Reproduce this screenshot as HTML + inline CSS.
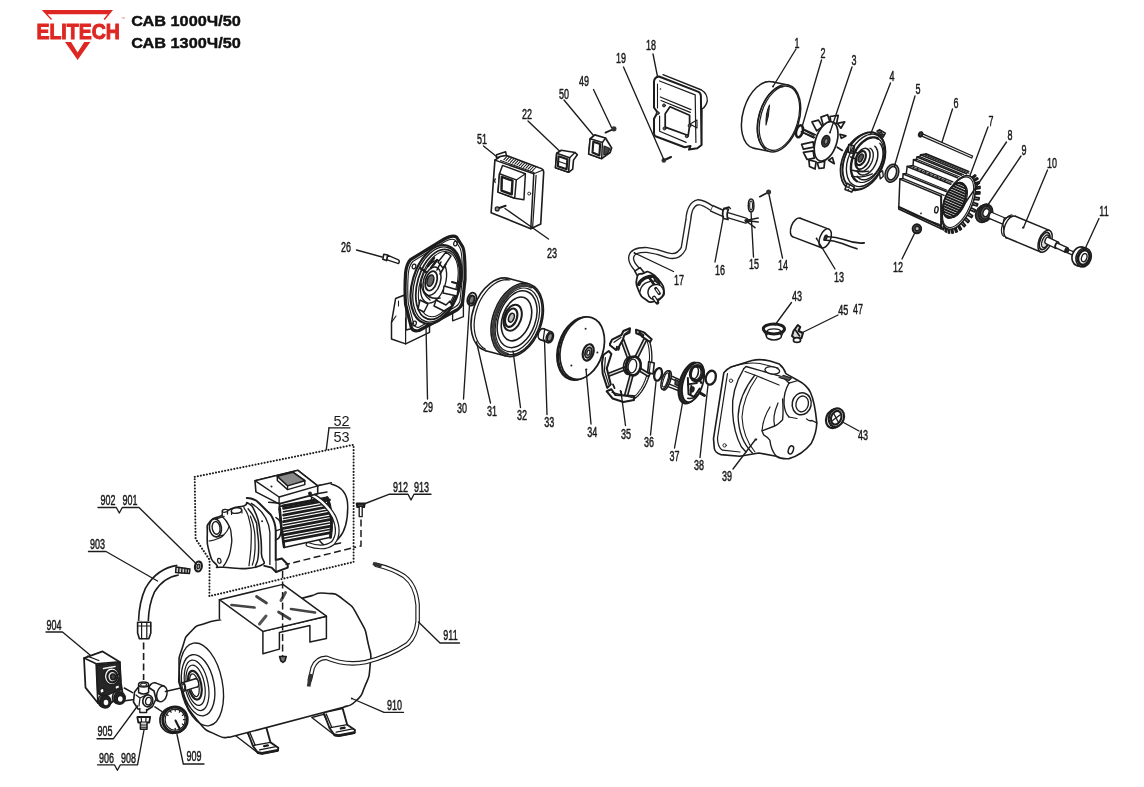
<!DOCTYPE html>
<html lang="ru"><head><meta charset="utf-8"><title>ELITECH САВ 1000Ч/50 — схема</title>
<style>
html,body{margin:0;padding:0;background:#fff;}
body{width:1144px;height:787px;overflow:hidden;font-family:"Liberation Sans",sans-serif;}
svg{display:block;filter:blur(0.3px)}
svg *{vector-effect:none}
.lb{font-family:"Liberation Sans",sans-serif;fill:#1a1a1a;stroke:#1a1a1a;stroke-width:0.5px}
.lg{font-family:"Liberation Sans",sans-serif}
.lc{font-family:"Liberation Sans",sans-serif;fill:#1a1a1a;stroke:none}
</style></head><body>
<svg width="1144" height="787" viewBox="0 0 1144 787" stroke="#1c1c1c" fill="none" stroke-linecap="round" stroke-linejoin="round">
<rect x="0" y="0" width="1144" height="787" fill="#fff" stroke="none"/>
<g id="p_logo">
<path d="M41.8 10.1 L113 10.1 L104.8 19.9 L103.6 19.1 L107.6 14.2 L47.5 14.2 L52 18.9 L51 19.9 Z" fill="#de2722" stroke="none"/>
<path d="M65 42 L71.1 42 L77.6 52.4 L84.2 42 L90.3 42 L77.6 60.1 Z" fill="#de2722" stroke="none"/>
<text x="36.4" y="38.8" font-size="22.3" font-weight="bold" fill="#de2722" stroke="#de2722" stroke-width="1.0" stroke-linejoin="miter" textLength="83.6" lengthAdjust="spacingAndGlyphs" class="lg">ELITECH</text>
<text x="121.2" y="18.6" font-size="3.4" fill="#d88" stroke="none" class="lg">тм</text>
<text x="131.2" y="26.3" font-size="15.3" font-weight="bold" fill="#111" stroke="#111" stroke-width="0.45" textLength="109.6" lengthAdjust="spacingAndGlyphs" class="lg">САВ 1000Ч/50</text>
<text x="131.2" y="48.2" font-size="15.3" font-weight="bold" fill="#111" stroke="#111" stroke-width="0.45" textLength="109.6" lengthAdjust="spacingAndGlyphs" class="lg">САВ 1300Ч/50</text>
</g>
<g id="p_motor">
<ellipse cx="763" cy="115" rx="20" ry="34.5" stroke-width="1.49" fill="#fff" transform="rotate(16.7 763 115)" />
<path d="M771.9 81.7 L788 85 L770.2 151.6 L754.1 148.3 Z" stroke-width="1.49" fill="#fff" stroke="none"/>
<line x1="771.9" y1="81.7" x2="788" y2="85" stroke-width="1.49" />
<line x1="754.1" y1="148.3" x2="770.2" y2="151.6" stroke-width="1.49" />
<ellipse cx="779.1" cy="118.3" rx="20" ry="34.5" stroke-width="1.49" fill="#fff" transform="rotate(16.7 779.1 118.3)" />
<ellipse cx="779.4" cy="118.3" rx="18.6" ry="33" stroke-width="1.22" fill="none" transform="rotate(16.7 779.4 118.3)" />
<path d="M765.5 148.3 L763.7 147.1 L762 145.5 L760.6 143.6 L759.3 141.2 L758.4 138.5 L757.7 135.5 L757.2 132.2 L757.1 128.7 L757.2 125.1 L757.6 121.4 L758.3 117.6 L759.2 113.8 L760.4 110.1 L761.8 106.5 L763.5 103 L765.3 99.8 L767.3 96.9 L769.4 94.2 L771.6 92 L773.9 90.1 L776.2 88.6 L778.5 87.5 L780.8 86.9 L783 86.8" stroke-width="1.22" fill="none" />
<path d="M769.5 105 Q765.5 113 766 125 Q769 116 769.5 105 Z" stroke-width="1.08" fill="#333" />
<ellipse cx="799.5" cy="131.3" rx="3.2" ry="6.2" stroke-width="2.56" fill="none" transform="rotate(16.7 799.5 131.3)" />
<path d="M802.5 129.5 L814 135.5 M802.5 132.5 L813.5 138" stroke-width="1.22" fill="none" />
<path d="M816.7 130.9 L811.9 121.9 L818.5 120.1 L822.5 126.7 Z" stroke-width="1.69" fill="#fff" />
<path d="M823.4 125.8 L820.9 117.1 L827.6 114.7 L830.2 123.1 Z" stroke-width="1.69" fill="#fff" />
<path d="M831 123.1 L830 116.5 L838.2 115.3 L836.6 123.3 Z" stroke-width="1.69" fill="#fff" />
<path d="M837.2 123.3 L844.7 121.9 L840.9 128.2 Z" stroke-width="1.69" fill="#fff" />
<path d="M839.9 134.3 L845.9 135.9 L841.3 138.3 Z" stroke-width="1.69" fill="#fff" />
<path d="M828.6 160.2 L832.4 157.6 L834.3 163.7 Z" stroke-width="1.69" fill="#fff" />
<path d="M817.3 162.9 L824.7 161.1 L824 167.9 L819.1 168.5 Z" stroke-width="1.69" fill="#fff" />
<path d="M816.1 161.7 L808.9 159.9 L809.5 166.5 L815 169.1 Z" stroke-width="1.69" fill="#fff" />
<path d="M813.1 150.9 L803.4 152.3 L807.1 159.5 L814.3 158.1 Z" stroke-width="1.69" fill="#fff" />
<path d="M813.1 141.8 L801.6 144.3 L803.4 149.2 L813.8 147.2 Z" stroke-width="1.69" fill="#fff" />
<path d="M837.2399227612841 147.2399227612841 L842.3087134926382 150.3777455949795" stroke-width="1.76" fill="none" />
<path d="M802.4825006034275 128.65435674631908 L815.2751629254163 134.68863142650252 M801.2756456673908 131.79217958001448 L814.3096789765871 137.34371228578325" stroke-width="1.62" fill="none" />
<ellipse cx="826.1" cy="141.4" rx="10.6" ry="20.4" stroke-width="1.69" fill="#fff" transform="rotate(18 826.1 141.4)" />
<ellipse cx="825.8" cy="141.2" rx="3.9" ry="5.9" stroke-width="1.35" fill="#3a3a3a" transform="rotate(18 825.8 141.2)" />
<ellipse cx="826.1" cy="141.3" rx="1.7" ry="2.9" stroke-width="0.94" fill="#8a8a8a" transform="rotate(18 826.1 141.3)" />
<ellipse cx="861.9" cy="161.7" rx="19.3" ry="30" stroke-width="1.76" fill="#fff" transform="rotate(23.8 861.9 161.7)" />
<ellipse cx="864" cy="160.8" rx="19.3" ry="30" stroke-width="1.89" fill="#fff" transform="rotate(23.8 864 160.8)" />
<path d="M877.1 131.1 L879.5 129.6 L885.3 133.2 L883.1 137.1 Z" stroke-width="1.62" fill="#fff" />
<path d="M879.4798455225682 131.79217958001448 L883.7038377986966 134.68863142650252 M880.9280714458122 130.5853246439778 L882.1349263818489 135.17137340091722" stroke-width="1.22" fill="none" />
<path d="M847.1 183.2 L845 189.5 L851.7 192.1 L854.4 187.1 Z" stroke-width="1.62" fill="#fff" />
<path d="M846.6533912623703 186.58339367608014 L852.6876659425537 189.4798455225682 M849.5498431088583 184.8937967656288 L848.1016171856143 190.44532947139754" stroke-width="1.22" fill="none" />
<path d="M879.5 172.6 L882.6 170.8 L883.3 176.2 L880.2 178.9 Z" stroke-width="1.35" fill="#fff" />
<path d="M848.8 144.6 L854.4 146 L853.2 153.5 L848.1 152.1 Z" stroke-width="1.76" fill="#fff" />
<line x1="851.2" y1="145.6" x2="850.3" y2="152.6" stroke-width="1.22" />
<ellipse cx="865.7" cy="160.4" rx="17.2" ry="27.6" stroke-width="1.35" fill="none" transform="rotate(23.8 865.7 160.4)" />
<path d="M856.7 181.1 L855.1 179.9 L853.8 178.4 L852.7 176.5 L851.9 174.4 L851.3 172 L851 169.4 L851 166.6 L851.2 163.8 L851.8 160.8 L852.6 157.9 L853.6 155 L854.9 152.1 L856.4 149.4 L858.1 146.9 L860 144.6 L862 142.6 L864.1 140.9 L866.2 139.4 L868.3 138.4 L870.5 137.7 L872.6 137.4 L874.6 137.4 L876.4 137.9 L878.1 138.7" stroke-width="2.43" fill="none" />
<path d="M878.1 138.7 L879.7 139.9 L881 141.5 L882.1 143.3 L882.9 145.5 L883.5 147.8 L883.8 150.4 L883.8 153.2 L883.6 156 L883 159 L882.2 161.9 L881.2 164.8 L879.9 167.7 L878.4 170.4 L876.7 172.9 L874.8 175.2 L872.8 177.2 L870.8 179 L868.6 180.4 L866.5 181.4 L864.4 182.1 L862.3 182.5 L860.3 182.4 L858.4 181.9 L856.7 181.1" stroke-width="1.22" fill="none" />
<path d="M879.9 143.4 L881 144.8 L881.9 146.6 L882.5 148.6 L882.9 150.8 L883.1 153.2 L883 155.7 L882.6 158.3 L882 160.9 L881.1 163.5 L880.1 166 L878.8 168.5 L877.4 170.8 L875.7 172.9 L874 174.8 L872.2 176.4 L870.3 177.7 L868.4 178.7 L866.5 179.4 L864.6 179.8 L862.9 179.7 L861.2 179.4 L859.7 178.7 L858.3 177.6 L857.1 176.2" stroke-width="1.49" fill="none" />
<path d="M874.8 146.2 L875.8 147.2 L876.6 148.6 L877.3 150.1 L877.7 151.9 L877.8 153.9 L877.8 155.9 L877.5 158.1 L877 160.3 L876.2 162.5 L875.3 164.6 L874.2 166.7 L873 168.6 L871.6 170.3 L870.1 171.8 L868.6 173 L867 174 L865.4 174.6 L863.9 175 L862.4 175 L861 174.8 L859.7 174.2 L858.6 173.3 L857.7 172.1 L856.9 170.7" stroke-width="1.49" fill="none" />
<path d="M870 148.2 L871.1 148.9 L872 149.9 L872.6 151.2 L873.1 152.7 L873.3 154.5 L873.2 156.4 L872.9 158.4 L872.4 160.4 L871.6 162.5 L870.6 164.4 L869.5 166.2 L868.2 167.7 L866.8 169.1 L865.4 170.1 L864 170.8 L862.5 171.2 L861.2 171.2 L860 170.9 L858.9 170.2 L858 169.2 L857.4 167.9 L856.9 166.4 L856.7 164.6 L856.8 162.7" stroke-width="1.35" fill="none" />
<ellipse cx="862.6" cy="158.7" rx="6.6" ry="11" stroke-width="1.62" fill="none" transform="rotate(23.8 862.6 158.7)" />
<ellipse cx="860.9" cy="158.1" rx="4.4" ry="7.4" stroke-width="2.16" fill="#fff" transform="rotate(23.8 860.9 158.1)" />
<ellipse cx="860.7" cy="158" rx="2.2" ry="4.2" stroke-width="1.35" fill="#555" transform="rotate(23.8 860.7 158)" />
<path d="M852.4462949553464 170.17016654598117 Q860.1701665459811 172.58387641805456 868.6181510982381 171.13565049481053" stroke-width="1.49" fill="none" />
<path d="M851.7221819937243 176.20444122616462 Q860.1701665459811 178.618151098238 872.238715906348 173.79073135409124" stroke-width="1.35" fill="none" />
<path d="M851.7221819937243 150.86048756939417 L857.7564566739078 153.27419744146755 M850.756698044895 156.8947622495776 L855.3427468018344 158.70504465363263" stroke-width="1.62" fill="none" />
<ellipse cx="891.9" cy="173.2" rx="6.6" ry="9.3" stroke-width="1.49" fill="#999" transform="rotate(20 891.9 173.2)" />
<ellipse cx="891.9" cy="173.2" rx="4.3" ry="6.9" stroke-width="1.49" fill="#fff" transform="rotate(20 891.9 173.2)" />
<path d="M921.5 133.4 L972.6 156 L971.8 158 L920.7 135.6 Z" stroke-width="1.22" fill="#eee" />
<ellipse cx="920.6" cy="134.4" rx="1.7" ry="2.3" stroke-width="1.89" fill="#444" transform="rotate(20 920.6 134.4)" />
<path d="M900.1 178.8 L902.8 178.4 L903.2 173.9 L906.3 173.5 L907.2 166.4 L913 165.5 L913.5 159.7 L916.6 159.2 L917 157 L919.7 156.6 L920.6 154.8 L925.9 153.9 L970.8 172.8 L962.4 174.8 L955.3 179.3 L949.9 185 L946.4 191.3 L942.8 197.7 Z" stroke-width="1.35" fill="#fff" stroke="none"/>
<line x1="902.8" y1="178.4" x2="944.1" y2="195.4" stroke-width="1.22" />
<line x1="903.2" y1="173.9" x2="946.2" y2="191.6" stroke-width="1.62" />
<line x1="906.3" y1="173.5" x2="947" y2="190.2" stroke-width="1.22" />
<line x1="907.2" y1="166.4" x2="950.7" y2="184.2" stroke-width="1.62" />
<line x1="910.1" y1="166" x2="951.7" y2="183.1" stroke-width="0.94" />
<line x1="913" y1="165.5" x2="952.9" y2="181.9" stroke-width="1.35" />
<line x1="913.5" y1="159.7" x2="957.5" y2="177.8" stroke-width="1.62" />
<line x1="916.6" y1="159.2" x2="959.2" y2="176.8" stroke-width="1.22" />
<line x1="917" y1="157" x2="961.5" y2="175.3" stroke-width="1.49" />
<line x1="919.7" y1="156.6" x2="963.4" y2="174.6" stroke-width="1.22" />
<line x1="920.6" y1="154.8" x2="966.7" y2="173.8" stroke-width="1.49" />
<line x1="923.2" y1="154.3" x2="969" y2="173.2" stroke-width="1.08" />
<line x1="925.9" y1="153.9" x2="968.6" y2="171.5" stroke-width="1.89" />
<line x1="913.9" y1="166.7" x2="913" y2="168.7" stroke-width="1.22" />
<line x1="917.8" y1="168.3" x2="916.9" y2="170.3" stroke-width="1.22" />
<line x1="921.7" y1="169.9" x2="920.8" y2="171.9" stroke-width="1.22" />
<line x1="925.7" y1="171.6" x2="924.8" y2="173.5" stroke-width="1.22" />
<line x1="929.6" y1="173.2" x2="928.7" y2="175.1" stroke-width="1.22" />
<line x1="933.5" y1="174.8" x2="932.6" y2="176.8" stroke-width="1.22" />
<line x1="937.4" y1="176.4" x2="936.5" y2="178.4" stroke-width="1.22" />
<line x1="941.3" y1="178" x2="940.4" y2="180" stroke-width="1.22" />
<line x1="945.2" y1="179.7" x2="944.3" y2="181.6" stroke-width="1.22" />
<path d="M900.1 178.8 L902.8 178.4 L903.2 173.9 L906.3 173.5 L907.2 166.4 L913 165.5 L913.5 159.7 L916.6 159.2 L917 157 L919.7 156.6 L920.6 154.8 L925.9 153.9" stroke-width="1.49" fill="none" />
<path d="M971.8 177.4 L974.9 174.9 L975.8 175.7 L972.6 178.3" stroke-width="1.76" fill="#fff" />
<path d="M973.6 179.8 L977.3 177.8 L977.9 179 L974.2 181.1" stroke-width="1.76" fill="#fff" />
<path d="M974.8 183.2 L979 181.8 L979.3 183.2 L975.1 184.7" stroke-width="1.76" fill="#fff" />
<path d="M975.4 187.3 L979.9 186.5 L980 188.3 L975.4 189.1" stroke-width="1.76" fill="#fff" />
<path d="M975.3 192 L979.9 192 L979.8 193.9 L975 194" stroke-width="1.76" fill="#fff" />
<path d="M974.5 197.2 L979.2 197.9 L978.8 199.9 L974 199.3" stroke-width="1.76" fill="#fff" />
<path d="M973.1 202.5 L977.7 203.9 L977 205.9 L972.3 204.7" stroke-width="1.76" fill="#fff" />
<path d="M971.1 207.8 L975.5 210 L974.6 211.9 L970.1 209.9" stroke-width="1.76" fill="#fff" />
<path d="M968.6 213 L972.6 215.7 L971.5 217.5 L967.4 214.9" stroke-width="1.76" fill="#fff" />
<path d="M965.7 217.7 L969.2 220.9 L968 222.5 L964.4 219.4" stroke-width="1.76" fill="#fff" />
<path d="M962.5 221.8 L965.4 225.4 L964.1 226.7 L961.1 223.2" stroke-width="1.76" fill="#fff" />
<path d="M959.1 225.1 L961.4 229 L960 230 L957.8 226.2" stroke-width="1.76" fill="#fff" />
<path d="M955.8 227.5 L957.3 231.5 L955.9 232.1 L954.4 228.2" stroke-width="1.76" fill="#fff" />
<path d="M952.5 228.9 L953.3 232.9 L952 233.1 L951.3 229.1" stroke-width="1.76" fill="#fff" />
<path d="M949.5 229.2 L949.5 233.1 L948.4 232.9 L948.4 229" stroke-width="1.76" fill="#fff" />
<path d="M946.9 228.5 L946.2 232.1 L945.2 231.4 L945.9 227.9" stroke-width="1.76" fill="#fff" />
<path d="M944.7 226.7 L943.4 229.8 L942.6 228.9 L944 225.7" stroke-width="1.76" fill="#fff" />
<ellipse cx="958.6" cy="202.4" rx="13.6" ry="28.6" stroke-width="1.62" fill="#fff" transform="rotate(23.2 958.6 202.4)" />
<ellipse cx="958.1" cy="202.2" rx="12.4" ry="27" stroke-width="1.08" fill="none" transform="rotate(23.2 958.1 202.2)" />
<ellipse cx="954.6" cy="200.2" rx="9.6" ry="18.8" stroke-width="1.49" fill="#fff" transform="rotate(23.2 954.6 200.2)" />
<clipPath id="bore"><ellipse cx="954.6" cy="200.2" rx="9.6" ry="18.8" transform="rotate(23.2 954.6 200.2)"/></clipPath>
<g clip-path="url(#bore)">
<line x1="938" y1="174" x2="968" y2="187" stroke-width="1.96" />
<line x1="938" y1="176.7" x2="968" y2="189.7" stroke-width="1.96" />
<line x1="938" y1="179.4" x2="968" y2="192.4" stroke-width="1.96" />
<line x1="938" y1="182.1" x2="968" y2="195.1" stroke-width="1.96" />
<line x1="938" y1="184.8" x2="968" y2="197.8" stroke-width="1.96" />
<line x1="938" y1="187.5" x2="968" y2="200.5" stroke-width="1.96" />
<line x1="938" y1="190.2" x2="968" y2="203.2" stroke-width="1.96" />
<line x1="938" y1="192.9" x2="968" y2="205.9" stroke-width="1.96" />
<line x1="938" y1="195.6" x2="968" y2="208.6" stroke-width="1.96" />
<line x1="938" y1="198.3" x2="968" y2="211.3" stroke-width="1.96" />
<line x1="938" y1="201" x2="968" y2="214" stroke-width="1.96" />
<line x1="938" y1="203.7" x2="968" y2="216.7" stroke-width="1.96" />
<line x1="938" y1="206.4" x2="968" y2="219.4" stroke-width="1.96" />
<line x1="938" y1="209.1" x2="968" y2="222.1" stroke-width="1.96" />
<line x1="938" y1="211.8" x2="968" y2="224.8" stroke-width="1.96" />
<line x1="938" y1="214.5" x2="968" y2="227.5" stroke-width="1.96" />
<line x1="938" y1="217.2" x2="968" y2="230.2" stroke-width="1.96" />
<line x1="938" y1="219.9" x2="968" y2="232.9" stroke-width="1.96" />
</g>
<ellipse cx="954.6" cy="200.2" rx="9.6" ry="18.8" stroke-width="1.62" fill="none" transform="rotate(23.2 954.6 200.2)" />
<path d="M965.1 185.5 L965.9 186.4 L966.5 187.6 L967 189 L967.3 190.6 L967.4 192.4 L967.3 194.4 L967 196.5 L966.6 198.6 L966 200.8 L965.3 202.9 L964.4 205.1 L963.4 207.2 L962.2 209.2 L961 211 L959.7 212.6 L958.3 214.1 L957 215.4 L955.6 216.3 L954.2 217.1 L952.9 217.5 L951.7 217.7 L950.5 217.6 L949.4 217.2 L948.5 216.5" stroke-width="1.22" fill="none" />
<path d="M899.9 179.1 L941.2 196.3 L941.2 228.8 L898.7 209 Z" stroke-width="1.49" fill="#fff" />
<line x1="898.9" y1="207" x2="941.2" y2="226.6" stroke-width="2.16" />
<line x1="906.5" y1="212.6" x2="941.2" y2="224.9" stroke-width="0.94" />
<line x1="941.2" y1="196.3" x2="941.2" y2="228.8" stroke-width="1.89" />
<ellipse cx="936.4" cy="209.8" rx="1.7" ry="3.2" stroke-width="1.35" fill="none" transform="rotate(10 936.4 209.8)" />
<circle cx="921" cy="213.4" r="0.9" fill="#222" stroke="none"/>
<ellipse cx="982.6" cy="214" rx="6.8" ry="8.6" stroke-width="1.62" fill="#444" transform="rotate(20 982.6 214)" />
<path d="M980.9 206.2 L983.9 204.8 L987.3 220.4 L984.3 221.8 Z" stroke-width="1.62" fill="#444" stroke="none"/>
<line x1="980.9" y1="206.2" x2="983.9" y2="204.8" stroke-width="1.62" />
<line x1="984.3" y1="221.8" x2="987.3" y2="220.4" stroke-width="1.62" />
<ellipse cx="985.6" cy="212.6" rx="6.8" ry="8.6" stroke-width="1.62" fill="#444" transform="rotate(20 985.6 212.6)" />
<ellipse cx="985.6" cy="212.6" rx="5" ry="6.6" stroke-width="1.35" fill="#555" transform="rotate(20 985.6 212.6)" />
<ellipse cx="986" cy="212.6" rx="2.8" ry="4" stroke-width="1.22" fill="#fff" transform="rotate(20 986 212.6)" />
<ellipse cx="991" cy="215.6" rx="1.8" ry="3.3" stroke-width="1.35" fill="#fff" transform="rotate(21.6 991 215.6)" />
<path d="M992.2 212.5 L1006.2 218.5 L1003.8 224.7 L989.8 218.7 Z" stroke-width="1.35" fill="#fff" stroke="none"/>
<line x1="992.2" y1="212.5" x2="1006.2" y2="218.5" stroke-width="1.35" />
<line x1="989.8" y1="218.7" x2="1003.8" y2="224.7" stroke-width="1.35" />
<path d="M1004.2 218.6 L1010.5 216.2 L1006 238 L1002.8 224.4 Z" stroke-width="1.35" fill="#fff" />
<ellipse cx="1011" cy="227" rx="6.2" ry="11.6" stroke-width="1.49" fill="#fff" transform="rotate(21.6 1011 227)" />
<path d="M1015.3 216.2 L1049.4 230.4 L1040.8 252 L1006.7 237.8 Z" stroke-width="1.49" fill="#fff" stroke="none"/>
<line x1="1015.3" y1="216.2" x2="1049.4" y2="230.4" stroke-width="1.49" />
<line x1="1006.7" y1="237.8" x2="1040.8" y2="252" stroke-width="1.49" />
<ellipse cx="1045.1" cy="241.2" rx="6.2" ry="11.6" stroke-width="1.49" fill="#fff" transform="rotate(21.6 1045.1 241.2)" />
<path d="M1003.9 236.4 L1003.3 235.9 L1002.7 235.3 L1002.3 234.5 L1001.9 233.6 L1001.7 232.6 L1001.5 231.5 L1001.5 230.3 L1001.5 229 L1001.7 227.7 L1002 226.4 L1002.4 225 L1002.8 223.7 L1003.4 222.4 L1004 221.2 L1004.7 220 L1005.5 219 L1006.3 218 L1007.2 217.2 L1008.1 216.5 L1008.9 215.9 L1009.8 215.5 L1010.7 215.2 L1011.5 215.2 L1012.3 215.2" stroke-width="1.22" fill="none" />
<ellipse cx="1044.6" cy="241" rx="4.6" ry="9" stroke-width="1.76" fill="none" transform="rotate(21.6 1044.6 241)" />
<ellipse cx="1045.4" cy="241.3" rx="3.2" ry="6.6" stroke-width="1.35" fill="#ddd" transform="rotate(21.6 1045.4 241.3)" />
<ellipse cx="1047" cy="240.4" rx="1.8" ry="3.4" stroke-width="1.35" fill="#fff" transform="rotate(21.6 1047 240.4)" />
<path d="M1048.3 237.3 L1058.3 242.1 L1055.7 248.3 L1045.7 243.5 Z" stroke-width="1.35" fill="#fff" stroke="none"/>
<line x1="1048.3" y1="237.3" x2="1058.3" y2="242.1" stroke-width="1.35" />
<line x1="1045.7" y1="243.5" x2="1055.7" y2="248.3" stroke-width="1.35" />
<ellipse cx="1057" cy="245.2" rx="1.8" ry="3.4" stroke-width="1.35" fill="#fff" transform="rotate(21.6 1057 245.2)" />
<ellipse cx="1057" cy="245.6" rx="1.4" ry="2.5" stroke-width="1.35" fill="#fff" transform="rotate(21.6 1057 245.6)" />
<path d="M1058 243.3 L1067.5 247.7 L1065.5 252.3 L1056 247.9 Z" stroke-width="1.35" fill="#fff" stroke="none"/>
<line x1="1058" y1="243.3" x2="1067.5" y2="247.7" stroke-width="1.35" />
<line x1="1056" y1="247.9" x2="1065.5" y2="252.3" stroke-width="1.35" />
<ellipse cx="1066.5" cy="250" rx="1.4" ry="2.5" stroke-width="1.35" fill="#fff" transform="rotate(21.6 1066.5 250)" />
<ellipse cx="1066.5" cy="250.6" rx="1" ry="1.7" stroke-width="1.35" fill="#fff" transform="rotate(21.6 1066.5 250.6)" />
<path d="M1067.1 249 L1075.6 252.6 L1074.4 255.8 L1065.9 252.2 Z" stroke-width="1.35" fill="#fff" stroke="none"/>
<line x1="1067.1" y1="249" x2="1075.6" y2="252.6" stroke-width="1.35" />
<line x1="1065.9" y1="252.2" x2="1074.4" y2="255.8" stroke-width="1.35" />
<ellipse cx="1075" cy="254.2" rx="1" ry="1.7" stroke-width="1.35" fill="#fff" transform="rotate(21.6 1075 254.2)" />
<ellipse cx="1067.4" cy="250.6" rx="1.2" ry="2" stroke-width="1.35" fill="#333" transform="rotate(21.6 1067.4 250.6)" />
<circle cx="1022.9" cy="227.7" r="0.9" fill="#222" stroke="none"/>
<ellipse cx="1079.6" cy="256.3" rx="7.4" ry="9.6" stroke-width="1.62" fill="#fff" transform="rotate(18 1079.6 256.3)" />
<path d="M1082.3 247.1 L1086.3 248.2 L1080.9 266.6 L1076.9 265.5 Z" stroke-width="1.62" fill="#fff" stroke="none"/>
<line x1="1082.3" y1="247.1" x2="1086.3" y2="248.2" stroke-width="1.62" />
<line x1="1076.9" y1="265.5" x2="1080.9" y2="266.6" stroke-width="1.62" />
<ellipse cx="1083.6" cy="257.4" rx="7.4" ry="9.6" stroke-width="1.62" fill="#fff" transform="rotate(18 1083.6 257.4)" />
<ellipse cx="1083.8" cy="257.5" rx="5.6" ry="7.6" stroke-width="2.7" fill="#fff" transform="rotate(18 1083.8 257.5)" />
<ellipse cx="1084.2" cy="257.7" rx="2.6" ry="4.2" stroke-width="1.35" fill="#fff" transform="rotate(18 1084.2 257.7)" />
<ellipse cx="916.9" cy="228.8" rx="4.3" ry="4.5" stroke-width="1.89" fill="#666" />
<ellipse cx="917.2" cy="228.6" rx="2.2" ry="2.4" stroke-width="1.35" fill="#bbb" />
</g>
<g id="p_elec">
<path d="M663 74.7 L701.5 90 Q707.5 93.5 707.3 101 Q706 106.5 702 109 L701.5 145 L697 148.2" stroke-width="1.35" fill="#fff" />
<path d="M654 81.5 Q654.5 77 659 76.5 L697.3 91.4 Q700.8 92.5 700.9 96 L701.5 145 L697.3 148.2 L689 149.6 L690.5 146 L684.7 147.3 L655.4 136.2 Q654 135.5 654 133 L654 118.7 L657.5 112.4 L654 107.5 Z" stroke-width="2.03" fill="#fff" />
<path d="M659.6 81 L695.2 94.9 L695.9 142.4" stroke-width="1.22" fill="none" />
<path d="M660.3 97 L691 109.6 M661 100.5 L690.3 112.4" stroke-width="1.22" fill="none" />
<path d="M657.5 84 L657.5 108" stroke-width="1.08" fill="none" />
<path d="M670 106.8 L689.6 115.2 L689.6 125.7 L688.2 135.5 L665.2 127.1 L665.2 113.8 Z" stroke-width="1.76" fill="none" />
<path d="M659.6 116 L659.6 131.3 L686.1 142.4" stroke-width="1.22" fill="none" />
<path d="M690 124 L697 120 L697 128 Z" stroke-width="1.08" fill="none" />
<circle cx="664" cy="105.4" r="1.5" fill="#555" stroke-width="0.9"/>
<circle cx="657.7" cy="113.1" r="1.5" fill="#555" stroke-width="0.9"/>
<circle cx="664.5" cy="128.5" r="1.5" fill="#555" stroke-width="0.9"/>
<circle cx="689.6" cy="125.7" r="1.5" fill="#555" stroke-width="0.9"/>
<circle cx="686.8" cy="136.2" r="1.5" fill="#555" stroke-width="0.9"/>
<circle cx="660.5" cy="89" r="0.8" fill="#222" stroke="none"/>
<path d="M664.5 160 L671 157" stroke-width="2.16" fill="none" />
<circle cx="663.8" cy="160.4" r="2.3" fill="#333" stroke="none"/>
<path d="M605.5 132.6 L612.5 129.5" stroke-width="1.89" fill="none" />
<circle cx="613.9" cy="128.8" r="2.6" fill="#333" stroke="none"/>
<path d="M590.2 138.7 L594.8 134.9 L605.5 138 L611.6 147.9 L610.1 152.5 L601.7 158.6 L588.7 154 Z" stroke-width="1.76" fill="#fff" />
<path d="M590.2 138.7 L602.4 142.5 L601.7 158.6 L588.7 154 Z" stroke-width="1.49" fill="#fff" />
<path d="M593.3 141.8 L600.1 144.1 L599.4 155.5 L592.5 152.5 Z" stroke-width="2.16" fill="none" />
<line x1="602.4" y1="142.5" x2="605.5" y2="138" stroke-width="1.35" />
<path d="M604 146 L610 148.5 L607.5 153.5 L603.8 155 Z" stroke-width="1.22" fill="#444" />
<path d="M556.7 153.2 L561.3 150.2 L575 152.5 L577.3 154.7 L573.5 160.1 L572.7 169.2 L568.6 172.3 L555.5 167.7 Z" stroke-width="1.62" fill="#fff" />
<path d="M556.7 153.2 L569.6 157.8 L568.6 172.3 L555.5 167.7 Z" stroke-width="1.62" fill="#fff" />
<path d="M558.5 156.3 L567.4 159.3 L566.6 169.2 L557.9 166.2 Z" stroke-width="2.16" fill="none" />
<line x1="569.6" y1="157.8" x2="575" y2="152.5" stroke-width="1.35" />
<line x1="559" y1="161.5" x2="566.8" y2="164.2" stroke-width="1.08" />
<path d="M496.4 157.8 L496.6 154.7 L505.6 151.7 L506.4 155.5 Z" stroke-width="1.49" fill="#fff" />
<path d="M494.9 160.1 L500.3 156.5 L506.4 155.5 L539.1 167.7 Q543.5 168.5 543.7 172 L540.7 224.1 L530.8 228.7 L491.1 212.7 Z" stroke-width="1.62" fill="#fff" />
<path d="M494.9 160.1 L533.8 173.8 L530.8 228.7" stroke-width="1.49" fill="none" />
<line x1="536.1" y1="175.3" x2="532.6" y2="227.5" stroke-width="1.22" />
<line x1="533.8" y1="173.8" x2="543" y2="170" stroke-width="1.22" />
<line x1="507" y1="156.4" x2="503.8" y2="159.8" stroke-width="1.08" />
<line x1="509.2" y1="157.2" x2="506" y2="160.7" stroke-width="1.08" />
<line x1="511.4" y1="158.1" x2="508.2" y2="161.5" stroke-width="1.08" />
<line x1="513.6" y1="159" x2="510.4" y2="162.4" stroke-width="1.08" />
<line x1="515.8" y1="159.8" x2="512.6" y2="163.2" stroke-width="1.08" />
<line x1="518" y1="160.7" x2="514.8" y2="164.1" stroke-width="1.08" />
<line x1="520.2" y1="161.5" x2="517" y2="164.9" stroke-width="1.08" />
<line x1="522.4" y1="162.3" x2="519.2" y2="165.8" stroke-width="1.08" />
<line x1="524.6" y1="163.2" x2="521.4" y2="166.6" stroke-width="1.08" />
<line x1="526.8" y1="164.1" x2="523.6" y2="167.5" stroke-width="1.08" />
<line x1="529" y1="164.9" x2="525.8" y2="168.3" stroke-width="1.08" />
<line x1="531.2" y1="165.8" x2="528" y2="169.2" stroke-width="1.08" />
<line x1="533.4" y1="166.6" x2="530.2" y2="170" stroke-width="1.08" />
<line x1="535.6" y1="167.5" x2="532.4" y2="170.9" stroke-width="1.08" />
<line x1="500.5" y1="160.5" x2="534" y2="172.6" stroke-width="1.08" />
<path d="M499.5 173.8 L502.5 165.4 L525.4 173.8 L523.9 199.7 L514.7 198.2 L498 192.1 Z" stroke-width="1.49" fill="#fff" />
<path d="M499.5 173.8 L516.3 179.9 L514.7 198.2 L498 192.1 Z" stroke-width="1.49" fill="#fff" />
<line x1="516.3" y1="179.9" x2="525.4" y2="173.8" stroke-width="1.22" />
<path d="M501.8 176.9 L512.5 180.7 L511.7 194.4 L501.5 190.6 Z" stroke-width="2.43" fill="#fff" />
<circle cx="529.2" cy="193.6" r="1.5" stroke-width="0.9"/>
<path d="M495.4 179 Q493.8 180.5 495.2 182.5" stroke-width="1.22" fill="none" />
<path d="M498.5 208.2 L505.6 205.8" stroke-width="2.03" fill="none" />
<circle cx="497.2" cy="208.9" r="2" fill="#888" stroke-width="1.1"/>
<path d="M636.7 269 Q630 262 631.3 256.5 Q633 249.5 647 250 Q658 251.5 667.7 255.3 Q678 258.5 683.6 248.3 L688.3 219.7 Q689.5 204 697.9 202.2 Q703 202 712.2 208.6 L724.9 214.2 L745.5 220.5" stroke-width="6.21" fill="none" stroke="#222"/>
<path d="M636.7 269 Q630 262 631.3 256.5 Q633 249.5 647 250 Q658 251.5 667.7 255.3 Q678 258.5 683.6 248.3 L688.3 219.7 Q689.5 204 697.9 202.2 Q703 202 712.2 208.6 L724.9 214.2 L745.5 220.5" stroke-width="3.51" fill="none" stroke="#fff"/>
<path d="M711.4 208.2 L723.3 213.4" stroke-width="7.29" fill="none" stroke="#222" stroke-linecap="butt"/>
<path d="M712 208.5 L722.7 213.2" stroke-width="4.32" fill="none" stroke="#fff" stroke-linecap="butt"/>
<path d="M724 208.5 Q721.5 213 723.5 218.5 L728 219.5 Q726 214 728.5 209.2 Z" stroke-width="1.76" fill="#fff" />
<path d="M724 208.5 L729 207 L730.5 208.6" stroke-width="1.35" fill="none" />
<path d="M745.5 220.5 L758.2 218.1 M745.5 220.5 L758.2 222.1 M745.5 220.5 L755 227.7" stroke-width="1.49" fill="none" />
<circle cx="746" cy="220.6" r="1.6" fill="#222" stroke="none"/>
<ellipse cx="751.1" cy="205.4" rx="2.8" ry="6.4" stroke-width="1.49" fill="#fff" />
<ellipse cx="751.1" cy="205.4" rx="1.4" ry="4.4" stroke-width="1.08" fill="none" />
<path d="M759.8 196.7 L767 193" stroke-width="1.76" fill="none" />
<circle cx="768.6" cy="191.9" r="2.5" fill="#333" stroke="none"/>
<path d="M634.8 271.2 L640 267.6 L644.7 273.3 L638.3 277.4 Z" stroke-width="1.62" fill="#fff" />
<path d="M636.9 278.1 C638.1 272.7 639 274.8 643.2 273.3 C647.4 271.8 645.8 270.6 650.9 273 C655.9 275.5 656.1 276.5 660 281.6 C663.9 286.7 663.5 285.1 663.9 290 C664.3 294.8 664.6 294.1 661.4 297.7 C658.1 301.2 657.6 301.1 653 301.7 C648.4 302.3 650.2 302.9 646 299.8 C641.8 296.7 641.7 297.9 639 291.4 C636.3 284.9 635.6 283.5 636.9 278.1 Z" stroke-width="1.76" fill="#fff" />
<path d="M638.7 284.4 C639.7 283 638.9 282.6 641.8 280.2 C644.7 277.8 643.6 278.6 647.4 277.2 C651.1 275.8 651.1 276.4 653 276" stroke-width="3.51" fill="none" />
<path d="M640 291.4 C640.9 289.5 639.8 288.8 642.5 285.8 C645.2 282.7 643.9 283.7 648.1 282.1 C652.3 280.5 652.7 281.4 655.1 281" stroke-width="1.35" fill="none" />
<path d="M653 276 L657.9 278.8 L660 285.1 L655.1 281 Z" stroke-width="1.35" fill="#333" />
<path d="M649.4755244755245 278.0769230769231 L654.3706293706293 285.0699300699301" stroke-width="2.7" fill="none" />
<ellipse cx="655.8" cy="292.1" rx="8" ry="7.6" stroke-width="1.49" fill="#fff" transform="rotate(-30 655.8 292.1)" />
<path d="M655.7692307692307 288.56643356643355 L659.2657342657343 293.46153846153845" stroke-width="3.24" fill="none" />
<path d="M656.3286713286714 289.4055944055944 L658.7062937062938 292.76223776223776" stroke-width="1.08" fill="none" stroke="#fff"/>
<path d="M654.020979020979 297.65734265734267 L657.3076923076923 302.5524475524476" stroke-width="4.05" fill="none" />
<path d="M654.0909090909091 297.7972027972028 L656.3286713286714 301.15384615384613" stroke-width="1.62" fill="none" stroke="#fff"/>
<ellipse cx="796.6" cy="227.6" rx="5.4" ry="10" stroke-width="1.49" fill="#fff" transform="rotate(21.4 796.6 227.6)" />
<path d="M800.2 218.3 L828.8 229.1 L821.6 247.7 L793 236.9 Z" stroke-width="1.49" fill="#fff" stroke="none"/>
<line x1="800.2" y1="218.3" x2="828.8" y2="229.1" stroke-width="1.49" />
<line x1="793" y1="236.9" x2="821.6" y2="247.7" stroke-width="1.49" />
<ellipse cx="825.2" cy="238.4" rx="5.4" ry="10" stroke-width="1.49" fill="#fff" transform="rotate(21.4 825.2 238.4)" />
<path d="M826 236.5 Q836 236.8 844.7 239.8 Q855 243.8 864.3 242.9" stroke-width="1.62" fill="none" />
<path d="M824 240 Q834 240.4 842.3 243.4 Q850 246.5 857 248.8" stroke-width="1.62" fill="none" />
<ellipse cx="825.6" cy="237.6" rx="1.3" ry="2.6" stroke-width="1.35" fill="#333" transform="rotate(21 825.6 237.6)" />
<circle cx="816.6" cy="238.5" r="0.9" fill="#222" stroke="none"/>
</g>
<g id="p_pump">
<path d="M387.5 255.2 L398.5 259.8 Q400.2 261.6 398.5 263.6 L386.5 259.6 Z" stroke-width="1.35" fill="#fff" />
<path d="M383.8 254.2 L387.6 255 L386.6 260.6 L382.8 259.2 Z" stroke-width="1.62" fill="#fff" />
<path d="M395.6 298.5 L403.9 295.2 L406 300 L406 330 L429.5 324.1 L429.5 332.3 L405.6 343.9 L391.5 339 L391.5 322.4 Z" stroke-width="1.49" fill="#fff" />
<line x1="405.6" y1="343.9" x2="405.6" y2="318" stroke-width="1.22" />
<line x1="398.5" y1="301" x2="398.5" y2="306" stroke-width="1.08" />
<line x1="391.5" y1="322.4" x2="396" y2="316" stroke-width="1.08" />
<path d="M452.6 312.5 L452.6 320.8 L463.4 316.7 L463.4 300 Z" stroke-width="1.35" fill="#fff" />
<path d="M410.5 259.7 L444.4 239 Q452.5 234.5 456.5 237 L462.5 246.5 Q465.3 251 465 279.5 L462.5 302.6 Q461 308 455 311 L419 330.5 Q413.5 332 411.5 328 L405.6 304.3 Q404.5 290 405.6 272.9 Q406.5 264 410.5 259.7 Z" stroke-width="3.24" fill="#fff" />
<path d="M412.8 261.5 L445 241.5 Q452 238 455 240 L460 248 Q462.6 253 462.3 279 L460 301 Q458.6 305.4 453.5 308 L419 327.2 Q415.3 328 414 325 L408.3 303.5 Q407.2 290 408.3 273.5 Q409.2 265.2 412.8 261.5 Z" stroke-width="1.08" fill="none" />
<ellipse cx="455.5" cy="243.5" rx="1.8" ry="2.4" stroke-width="1.22" fill="none" transform="rotate(17 455.5 243.5)" />
<ellipse cx="414" cy="266.5" rx="1.8" ry="2.4" stroke-width="1.22" fill="none" transform="rotate(17 414 266.5)" />
<ellipse cx="414.5" cy="323.5" rx="1.8" ry="2.4" stroke-width="1.22" fill="none" transform="rotate(17 414.5 323.5)" />
<ellipse cx="436.1" cy="284.5" rx="23.8" ry="40.5" stroke-width="2.16" fill="#fff" transform="rotate(16.6 436.1 284.5)" />
<ellipse cx="436.7" cy="284.5" rx="22.2" ry="38.6" stroke-width="1.35" fill="none" transform="rotate(16.6 436.7 284.5)" />
<ellipse cx="437.7" cy="284.3" rx="20.2" ry="36" stroke-width="1.76" fill="none" transform="rotate(16.6 437.7 284.3)" />
<ellipse cx="438.3" cy="284.1" rx="18.2" ry="33.6" stroke-width="1.08" fill="none" transform="rotate(16.6 438.3 284.1)" />
<ellipse cx="433.5" cy="281.7" rx="12" ry="22" stroke-width="1.35" fill="none" transform="rotate(16.6 433.5 281.7)" />
<ellipse cx="432" cy="281.2" rx="8.4" ry="14.6" stroke-width="1.49" fill="none" transform="rotate(16.6 432 281.2)" />
<ellipse cx="431.2" cy="280.9" rx="5.6" ry="10" stroke-width="1.76" fill="none" transform="rotate(16.6 431.2 280.9)" />
<ellipse cx="430.4" cy="280.6" rx="3.2" ry="5.8" stroke-width="1.62" fill="#666" transform="rotate(16.6 430.4 280.6)" />
<path d="M438 262 L446 252 L451 256 L443 268 Z" stroke-width="1.49" fill="#fff" />
<path d="M444 286 L458 290 L457 296 L443 293 Z" stroke-width="1.49" fill="#fff" />
<path d="M436 300 L446 305 L450 301 L452 306 L444 311 L434 306 Z" stroke-width="1.49" fill="#fff" />
<path d="M420 300 L428 304 L424 312 L418 309 Z" stroke-width="1.49" fill="#fff" />
<path d="M428 266 L434 258 M431 268 L437 260 M426 272 L420 268" stroke-width="2.43" fill="none" />
<path d="M437 270 L441 262 M440 274 L446 264" stroke-width="1.62" fill="none" />
<path d="M424 292 Q430 300 440 298" stroke-width="1.62" fill="none" />
<path d="M421 283 Q422 294 430 300" stroke-width="1.35" fill="none" />
<path d="M452 282 L459 284" stroke-width="2.16" fill="none" />
<ellipse cx="471.9" cy="299.2" rx="4.4" ry="6.6" stroke-width="1.76" fill="#fff" transform="rotate(15 471.9 299.2)" />
<ellipse cx="471.7" cy="299.6" rx="2.6" ry="4.2" stroke-width="1.89" fill="#777" transform="rotate(15 471.7 299.6)" />
<ellipse cx="497.2" cy="314.6" rx="24.3" ry="37.9" stroke-width="1.62" fill="#fff" transform="rotate(19.6 497.2 314.6)" />
<path d="M508.7 278.5 L528.7 283.8 L505.7 356 L485.7 350.7 Z" stroke-width="1.62" fill="#fff" stroke="none"/>
<line x1="508.7" y1="278.5" x2="528.7" y2="283.8" stroke-width="1.62" />
<line x1="485.7" y1="350.7" x2="505.7" y2="356" stroke-width="1.62" />
<ellipse cx="517.2" cy="319.9" rx="24.3" ry="37.9" stroke-width="1.62" fill="#fff" transform="rotate(19.6 517.2 319.9)" />
<path d="M485.2 349.1 L482.7 347.5 L480.5 345.4 L478.6 342.8 L477 339.9 L475.7 336.5 L474.8 332.8 L474.3 328.9 L474.1 324.7 L474.4 320.4 L475 316.1 L476 311.7 L477.4 307.4 L479 303.1 L481 299.1 L483.3 295.3 L485.9 291.8 L488.6 288.7 L491.5 286 L494.5 283.7 L497.6 281.9 L500.7 280.6 L503.8 279.9 L506.9 279.7 L509.8 280" stroke-width="1.22" fill="none" />
<path d="M507.4 354.2 L504.4 353.2 L501.7 351.6 L499.3 349.4 L497.3 346.7 L495.6 343.4 L494.4 339.7 L493.6 335.6 L493.2 331.2 L493.3 326.6 L493.9 321.9 L494.9 317.1 L496.4 312.4 L498.3 307.8 L500.5 303.5 L503 299.4 L505.8 295.8 L508.9 292.6 L512.1 290 L515.4 287.9 L518.8 286.4 L522.1 285.5 L525.3 285.4 L528.4 285.8 L531.3 287" stroke-width="3.1" fill="none" stroke="#3a3a3a"/>
<path d="M531.5 286.6 L533.9 288.2 L536 290.2 L537.9 292.7 L539.4 295.6 L540.7 298.9 L541.5 302.5 L542 306.4 L542.2 310.4 L541.9 314.7 L541.3 319 L540.3 323.3 L539 327.5 L537.3 331.7 L535.4 335.7 L533.1 339.4 L530.6 342.8 L528 345.9 L525.1 348.6 L522.2 350.8 L519.2 352.6 L516.1 353.9 L513.1 354.6 L510.1 354.8 L507.3 354.5" stroke-width="1.62" fill="none" />
<ellipse cx="517.4" cy="319.9" rx="20.4" ry="33" stroke-width="1.22" fill="none" transform="rotate(19.6 517.4 319.9)" />
<ellipse cx="517.1" cy="319.2" rx="18.4" ry="29.4" stroke-width="1.49" fill="none" transform="rotate(19.6 517.1 319.2)" />
<ellipse cx="516.5" cy="318.9" rx="14" ry="22.7" stroke-width="1.62" fill="none" transform="rotate(19.6 516.5 318.9)" />
<ellipse cx="512.7" cy="317.7" rx="8.4" ry="13.5" stroke-width="2.03" fill="none" transform="rotate(19.6 512.7 317.7)" />
<ellipse cx="511.2" cy="317.7" rx="5.6" ry="9.5" stroke-width="2.16" fill="none" transform="rotate(19.6 511.2 317.7)" />
<ellipse cx="511.4" cy="317.7" rx="2.6" ry="4.6" stroke-width="1.49" fill="#bbb" transform="rotate(19.6 511.4 317.7)" />
<ellipse cx="541.8" cy="334.1" rx="3.4" ry="5.6" stroke-width="1.62" fill="#fff" transform="rotate(18 541.8 334.1)" />
<path d="M543.7 328.8 L551.7 332 L547.9 342.6 L539.9 339.4 Z" stroke-width="1.62" fill="#fff" stroke="none"/>
<line x1="543.7" y1="328.8" x2="551.7" y2="332" stroke-width="1.62" />
<line x1="539.9" y1="339.4" x2="547.9" y2="342.6" stroke-width="1.62" />
<ellipse cx="549.8" cy="337.3" rx="3.4" ry="5.6" stroke-width="1.62" fill="#fff" transform="rotate(18 549.8 337.3)" />
<ellipse cx="549.9" cy="337.3" rx="2.4" ry="4.2" stroke-width="1.62" fill="#888" transform="rotate(18 549.9 337.3)" />
<line x1="544.6" y1="329.8" x2="543.2" y2="339.8" stroke-width="1.22" />
<ellipse cx="579.4" cy="348.8" rx="21.1" ry="32" stroke-width="2.03" fill="#fff" transform="rotate(17.3 579.4 348.8)" />
<ellipse cx="580.6" cy="348.5" rx="21.1" ry="32" stroke-width="1.49" fill="#fff" transform="rotate(17.3 580.6 348.5)" />
<ellipse cx="582.2" cy="348.1" rx="21.1" ry="32" stroke-width="1.76" fill="#fff" transform="rotate(17.3 582.2 348.1)" />
<ellipse cx="588.2" cy="352.4" rx="5.2" ry="8.4" stroke-width="2.16" fill="#fff" transform="rotate(17.3 588.2 352.4)" />
<ellipse cx="588.4" cy="352.6" rx="3.2" ry="5.4" stroke-width="1.76" fill="#999" transform="rotate(17.3 588.4 352.6)" />
<ellipse cx="588.4" cy="352.7" rx="1.4" ry="2.6" stroke-width="1.22" fill="#fff" transform="rotate(17.3 588.4 352.7)" />
<circle cx="585.6" cy="328.8" r="1.0" fill="#222" stroke="none"/>
<circle cx="597.4" cy="352.6" r="1.0" fill="#222" stroke="none"/>
<circle cx="586.4" cy="369.6" r="1.0" fill="#222" stroke="none"/>
<circle cx="571.4" cy="365.6" r="1.0" fill="#222" stroke="none"/>
<path d="M644.9 333 L646.4 334.8 L647.7 337 L648.8 339.4 L649.8 342.1 L650.6 345 L651.2 348.1 L651.6 351.3 L651.8 354.8 L651.9 358.3 L651.7 361.9 L651.3 365.5 L650.7 369.1 L649.9 372.7 L648.9 376.2 L647.8 379.5 L646.5 382.8 L645 385.8 L643.4 388.7 L641.7 391.3 L639.9 393.6 L638.1 395.7 L636.1 397.4 L634.1 398.9 L632.1 399.9" stroke-width="1.35" fill="none" />
<path d="M645.9 338.3 L646.8 340.3 L647.5 342.4 L648.2 344.8 L648.7 347.2 L649.1 349.8 L649.3 352.5 L649.5 355.3 L649.5 358.1 L649.3 361 L649 364 L648.6 366.9 L648.1 369.8 L647.5 372.7 L646.7 375.5 L645.8 378.3 L644.8 381 L643.7 383.5 L642.5 385.9 L641.2 388.2 L639.8 390.3 L638.4 392.3 L636.9 394 L635.4 395.6 L633.9 396.9" stroke-width="1.08" fill="none" />
<path d="M630.4 357.5 L623.8 339.6 L621 340.6 L627.6 358.5 Z" stroke-width="1.62" fill="#ddd" />
<path d="M637.7 358.1 L647 339.4 L644.3 338.1 L635 356.8 Z" stroke-width="1.62" fill="#ddd" />
<path d="M638.9 370.7 L648.5 376.6 L650 374 L640.4 368.2 Z" stroke-width="1.62" fill="#ddd" />
<path d="M630.2 374.4 L624.3 396.3 L627.2 397.1 L633.1 375.2 Z" stroke-width="1.62" fill="#ddd" />
<path d="M625.2 366.7 L606.5 373.9 L607.6 376.7 L626.3 369.5 Z" stroke-width="1.62" fill="#ddd" />
<path d="M610 343.7 L612 339.7 L621.4 335 L623.4 331 L630 328.3 L629.5 332.6 L624.3 335 L622.8 339.8 L618.8 347 L616 350 L610 345.2 Z" stroke-width="2.03" fill="#fff" />
<path d="M636 329.7 L643.4 332.1 L651.7 339.3 L650.1 342 L642.8 337.2 L640.7 335 L636.2 333.2 Z" stroke-width="2.03" fill="#fff" />
<path d="M603.3 355 L608.7 351 L611.4 354 L606.8 368.4 L610.8 384.4 L607.3 387.9 L602.7 373.7 L602 363 Z" stroke-width="2.03" fill="#fff" />
<path d="M606.7 391.3 L611.4 389.2 L615.4 395.1 L634 395.9 L634 399.9 L623.4 402 L612.7 398.5 Z" stroke-width="2.03" fill="#fff" />
<path d="M614.0224209261978 342.3588682770586 L620.9622314159883 337.4209261977846 M624.9659682370212 333.6841051648205 L628.9697050580542 330.748031496063" stroke-width="1.22" fill="none" />
<path d="M605.3476578139597 357.7065260910183 L604.4134525557187 371.0523154944615 L608.6841051648205 384.3981048979047" stroke-width="1.22" fill="none" />
<path d="M612.0205525156813 392.40557853997063 L632.7065260910183 397.74389430134795" stroke-width="1.22" fill="none" />
<path d="M639.1 331.8 L643.7 335 L643.1 336.9 L639.1 334 Z" stroke-width="1.35" fill="#333" />
<path d="M616.7 346.5 L619.6 347.8 L618.6 350 L616.2 349.2 Z" stroke-width="1.35" fill="#333" />
<path d="M620.4283998398505 390.80408381155746 L621.496062992126 393.74015748031496 M612.9547577739223 384.3981048979047 L614.5562525023355 388.1349259308688" stroke-width="1.76" fill="none" />
<ellipse cx="630" cy="365.7" rx="4.6" ry="8.6" stroke-width="1.49" fill="#fff" transform="rotate(10.3 630 365.7)" />
<ellipse cx="633.5" cy="366" rx="7.2" ry="9.4" stroke-width="2.7" fill="#fff" transform="rotate(10.3 633.5 366)" />
<ellipse cx="632.4" cy="366" rx="4.2" ry="7" stroke-width="1.35" fill="none" transform="rotate(10.3 632.4 366)" />
<path d="M627.3 374.4 L626.7 374.1 L626 373.6 L625.5 373 L625 372.3 L624.5 371.5 L624.2 370.7 L623.9 369.7 L623.7 368.8 L623.6 367.7 L623.5 366.7 L623.6 365.6 L623.7 364.6 L624 363.5 L624.3 362.5 L624.7 361.5 L625.1 360.6 L625.7 359.8 L626.3 359 L626.9 358.3 L627.6 357.8 L628.3 357.3 L629.1 356.9 L629.8 356.7 L630.6 356.6" stroke-width="1.62" fill="none" />
<path d="M648.7 361.7 L654.3 363 L653 374 L647.7 372.4 Z" stroke-width="1.62" fill="#fff" />
<line x1="650.3" y1="362.5" x2="649.3" y2="372.9" stroke-width="1.08" />
<circle cx="621" cy="391.7" r="0.9" fill="#222" stroke="none"/>
<ellipse cx="658.1" cy="374.4" rx="3.7" ry="6.4" stroke-width="2.29" fill="#fff" transform="rotate(15 658.1 374.4)" />
<path d="M669 374.9 L681.2 380.5 L681.2 391.7 L666.9 386.1 Z" stroke-width="1.49" fill="#fff" />
<path d="M670.0244584206848 378.0607966457023 L680.8560447239693 382.95248078266945 M668.277428371768 383.6512928022362 L680.8560447239693 388.8923829489867" stroke-width="1.35" fill="none" />
<path d="M675.3 379.5 L680.2 381.9 L679.5 386.4 L674.9 384.4 Z" stroke-width="1.22" fill="#444" />
<ellipse cx="666.7" cy="380.5" rx="3.6" ry="10" stroke-width="1.62" fill="#fff" transform="rotate(18 666.7 380.5)" />
<ellipse cx="665.3" cy="380" rx="3.4" ry="9.6" stroke-width="1.62" fill="#fff" transform="rotate(18 665.3 380)" />
<ellipse cx="665.5" cy="380" rx="2" ry="7.4" stroke-width="1.08" fill="none" transform="rotate(18 665.5 380)" />
<ellipse cx="690.3" cy="383.1" rx="10.6" ry="21.2" stroke-width="1.89" fill="#2a2a2a" transform="rotate(17 690.3 383.1)" />
<ellipse cx="693.1" cy="382.4" rx="9.8" ry="20.4" stroke-width="1.76" fill="#fff" transform="rotate(17 693.1 382.4)" />
<ellipse cx="696.9" cy="373.3" rx="6.2" ry="7.6" stroke-width="3.51" fill="#fff" transform="rotate(15 696.9 373.3)" />
<ellipse cx="694.8" cy="372.8" rx="3.4" ry="6" stroke-width="1.62" fill="#fff" transform="rotate(15 694.8 372.8)" />
<path d="M699.2 367.1 L699.7 367.6 L700.1 368.2 L700.5 368.9 L700.7 369.7 L700.9 370.5 L701 371.3 L701 372.2 L701 373.1 L700.8 374 L700.5 374.9 L700.2 375.8 L699.8 376.6 L699.3 377.3 L698.8 378 L698.2 378.6 L697.6 379 L696.9 379.4 L696.3 379.7 L695.6 379.9 L694.9 379.9 L694.3 379.8 L693.7 379.7 L693.1 379.4 L692.5 378.9" stroke-width="1.35" fill="none" />
<path d="M687.8441649196366 378.0607966457023 L688.5429769392033 394.13347309573726 L694.1334730957373 396.9287211740042 L699.7239692522711 388.54297693920336" stroke-width="2.03" fill="none" />
<path d="M687.8441649196366 384.3501048218029 L696.9287211740042 382.95248078266945 M691.3382250174703 385.74772886093643 L690.6394129979036 394.13347309573726" stroke-width="1.89" fill="none" />
<ellipse cx="692.2" cy="389.4" rx="1.8" ry="2.6" stroke-width="1.35" fill="#222" transform="rotate(15 692.2 389.4)" />
<path d="M687.8441649196366 398.32634521313764 Q695.5310971348707 399.72396925227116 700.4227812718378 391.3382250174703" stroke-width="1.62" fill="none" />
<path d="M699.7239692522711 392.7358490566038 L704.4758909853249 395.5310971348707" stroke-width="2.97" fill="none" />
<path d="M700.4227812718378 380.85604472396926 L701.1215932914046 382.95248078266945" stroke-width="2.16" fill="none" />
<ellipse cx="710.8" cy="377.7" rx="4.9" ry="7.1" stroke-width="2.29" fill="#fff" transform="rotate(17 710.8 377.7)" />
<path d="M723.8 372.8 Q727 369 731 367 L752 360.5 Q760.4 358.5 770 361 L779.4 364.1 Q784 368 785.8 373.6 L798.5 380.7 Q807 385 810.5 392.5 Q814.8 402 816.8 422.9 Q816.5 433 811.2 443.5 Q802 455 789 458.6 Q781 459.2 776.3 456.2 L758.8 453 L739.7 456.2 L720.7 454.6 Q714.6 452.5 714.3 448.3 L713.5 438.7 Z" stroke-width="1.62" fill="#fff" />
<path d="M727.5 373.5 L717.5 438 Q717.6 447.5 722.5 450.2 L740 452" stroke-width="1.22" fill="none" />
<circle cx="731" cy="380.7" r="1.7" stroke-width="0.9"/>
<circle cx="724.6" cy="445.4" r="1.7" stroke-width="0.9"/>
<path d="M743.7 368.8 Q731 390 732.6 411.7 Q733.5 432 741.3 446.7 L746 452" stroke-width="1.35" fill="none" />
<path d="M754.8 375.2 Q739 395 738.1 416.5 Q739 440 752.4 453" stroke-width="1.35" fill="none" />
<path d="M757 377 Q743 397 742 417 Q743 438 755 452" stroke-width="1.08" fill="none" />
<path d="M743.7 368.8 L746 366.5 L782.6 376.8 L789 383.1" stroke-width="1.35" fill="none" />
<path d="M745 371.5 L756.5 375.8 L779 385" stroke-width="1.22" fill="none" />
<path d="M731 367 Q748 361.5 760 363.5 L778 368" stroke-width="1.08" fill="none" />
<ellipse cx="772.3" cy="370.4" rx="7.4" ry="3.6" stroke-width="1.35" fill="#fff" transform="rotate(8 772.3 370.4)" />
<path d="M779 377.5 L789 380.5 L791.5 378 L783 375.2" stroke-width="1.08" fill="#555" />
<path d="M789 383.1 Q783.5 392 784 404 Q784.8 413 789 417" stroke-width="1.35" fill="none" />
<path d="M789 383.1 L798 380.5 M789 417 L797 418.5" stroke-width="1.22" fill="none" />
<ellipse cx="801.7" cy="403.8" rx="9.5" ry="11.1" stroke-width="1.49" fill="#fff" transform="rotate(12 801.7 403.8)" />
<ellipse cx="802.2" cy="403.9" rx="6.2" ry="8" stroke-width="1.35" fill="none" transform="rotate(12 802.2 403.9)" />
<path d="M806.5 418.9 Q809 421.5 812 420.5 L816.8 422.9" stroke-width="1.35" fill="none" />
<path d="M782.6 399 Q783.5 412 782.6 419.7 Q778 424.5 774.7 426 L762 430.8 L763.6 434.8 Q768.5 437.5 769.9 440.3 Q771 450 776.3 456.2" stroke-width="1.35" fill="none" />
<path d="M774.7 426 Q772 417 778 403" stroke-width="1.22" fill="none" />
<path d="M762 430.8 Q763 418 770 407" stroke-width="1.22" fill="none" />
<ellipse cx="790.9" cy="449.9" rx="2.4" ry="4.2" stroke-width="1.49" fill="none" transform="rotate(20 790.9 449.9)" />
<circle cx="756.4" cy="439.5" r="0.9" fill="#222" stroke="none"/>
<ellipse cx="773.9" cy="335.9" rx="7.6" ry="4" stroke-width="1.49" fill="#fff" />
<path d="M763.2 329.2 L766.4 336 M784.6 329.2 L781.4 336" stroke-width="1.35" fill="none" />
<ellipse cx="773.9" cy="328.9" rx="10.6" ry="5" stroke-width="2.97" fill="#fff" />
<ellipse cx="773.9" cy="331.5" rx="6.6" ry="2.6" stroke-width="1.35" fill="none" />
<path d="M797.8 325 L800.2 327 L798.5 331 L803 333 L801.5 338 L796 339.5 L792 336 L793.5 331 Z" stroke-width="2.03" fill="#ddd" />
<ellipse cx="797" cy="340" rx="3.6" ry="2.4" stroke-width="1.62" fill="#fff" />
<path d="M795.5 330 L799.5 336" stroke-width="1.62" fill="none" />
<ellipse cx="833.6" cy="418.9" rx="7.4" ry="9.4" stroke-width="2.16" fill="#fff" transform="rotate(20 833.6 418.9)" />
<path d="M831.8 410.4 L834.6 409.1 L838.2 426.1 L835.4 427.4 Z" stroke-width="2.16" fill="#fff" stroke="none"/>
<line x1="831.8" y1="410.4" x2="834.6" y2="409.1" stroke-width="2.16" />
<line x1="835.4" y1="427.4" x2="838.2" y2="426.1" stroke-width="2.16" />
<ellipse cx="836.4" cy="417.6" rx="7.4" ry="9.4" stroke-width="2.16" fill="#fff" transform="rotate(20 836.4 417.6)" />
<ellipse cx="836.2" cy="417.7" rx="5" ry="7" stroke-width="2.16" fill="#fff" transform="rotate(20 836.2 417.7)" />
<path d="M833.5 413 L838.5 422.5 M832.5 420.5 L840 415" stroke-width="1.35" fill="none" />
</g>
<g id="p_lower">
<path d="M235.1 735.2 L246.9 732 L258 752.9 Z" stroke-width="1.35" fill="#fff" />
<path d="M246.9 730 L265.9 726 L270.5 742.4 L278.3 747.7 L277.7 750.6 L262 753.6 L258 752.9 L252.8 745.7 Z" stroke-width="1.89" fill="#fff" />
<path d="M249.5 731.7 L255.1 745.1 L270.5 742.4" stroke-width="1.35" fill="none" />
<path d="M252.8 745.7 L255.1 745.1" stroke-width="1.35" fill="none" />
<path d="M258 752.6 L262 753.3 L277.7 750.3" stroke-width="2.7" fill="none" />
<path d="M259.5 749.8 L276 746.6" stroke-width="1.22" fill="none" />
<path d="M264.2 746.1 L267.8 745.4" stroke-width="2.43" fill="none" />
<path d="M311.8 717.5 L323.6 714.3 L334.7 735.2 Z" stroke-width="1.35" fill="#fff" />
<path d="M323.6 712.3 L342.6 708.3 L347.2 724.7 L355 730 L354.4 732.9 L338.7 735.9 L334.7 735.2 L329.5 728 Z" stroke-width="1.89" fill="#fff" />
<path d="M326.2 714.0 L331.8 727.4 L347.2 724.6999999999999" stroke-width="1.35" fill="none" />
<path d="M329.5 728.0 L331.8 727.4" stroke-width="1.35" fill="none" />
<path d="M334.7 734.9 L338.7 735.5999999999999 L354.4 732.5999999999999" stroke-width="2.7" fill="none" />
<path d="M336.2 732.0999999999999 L352.7 728.9" stroke-width="1.22" fill="none" />
<path d="M340.9 728.4 L344.5 727.6999999999999" stroke-width="2.43" fill="none" />
<path d="M219.6 620 C214.7 621.1 214.4 619.7 205 623.4 C195.6 627.1 199 623.1 191.5 631 C184 638.9 186.7 634.2 182.6 647 C178.5 659.8 179 653.8 179.1 669.5 C179.2 685.2 176.9 677 183 694 C189.1 711 186.5 707 197.5 720.5 C208.5 734 205.3 729 216 734.6 C226.7 740.2 225 736.4 229.5 737.3 L343.4 707.2 C347.5 705.1 348.7 707.8 355.8 701 C362.9 694.2 359.9 698.7 364.7 686.8 C369.5 674.9 368.9 679.6 370.1 665.4 C371.3 651.2 371.9 659.5 368.3 644.1 C364.7 628.7 367.7 633.9 359.4 619.1 C351.1 604.3 354.7 608.2 343.4 599.6 C332.1 591 336.1 594.6 325.6 593.3 C315.1 592 316.5 594.8 312 595.6 Z" stroke-width="1.62" fill="#fff" />
<ellipse cx="201.4" cy="684.4" rx="21" ry="42" stroke-width="1.35" fill="none" transform="rotate(-11 201.4 684.4)" />
<ellipse cx="198.1" cy="685.2" rx="16" ry="31" stroke-width="1.35" fill="none" transform="rotate(-11 198.1 685.2)" />
<ellipse cx="196.6" cy="685.3" rx="11.6" ry="25.6" stroke-width="1.22" fill="none" transform="rotate(-11 196.6 685.3)" />
<ellipse cx="195.6" cy="685.3" rx="9" ry="20.4" stroke-width="1.22" fill="none" transform="rotate(-11 195.6 685.3)" />
<ellipse cx="194.8" cy="685.2" rx="6.5" ry="14.6" stroke-width="2.16" fill="none" transform="rotate(-11 194.8 685.2)" />
<ellipse cx="194.4" cy="685.2" rx="4.4" ry="11.6" stroke-width="1.22" fill="none" transform="rotate(-11 194.4 685.2)" />
<ellipse cx="196.4" cy="682.8" rx="2.2" ry="4.2" stroke-width="1.49" fill="#fff" transform="rotate(-11 196.4 682.8)" />
<path d="M197.3 686.9 L184.1 690.9 L182.3 682.7 L195.5 678.7 Z" stroke-width="1.49" fill="#fff" stroke="none"/>
<line x1="197.3" y1="686.9" x2="184.1" y2="690.9" stroke-width="1.49" />
<line x1="195.5" y1="678.7" x2="182.3" y2="682.7" stroke-width="1.49" />
<ellipse cx="183.2" cy="686.8" rx="2.2" ry="4.2" stroke-width="1.49" fill="#fff" transform="rotate(-11 183.2 686.8)" />
<ellipse cx="183.4" cy="686.8" rx="1.2" ry="2.8" stroke-width="1.08" fill="none" transform="rotate(-11 183.4 686.8)" />
<path d="M219.4 599.7 L219.4 618.5 L262.9 653.8 L262.9 631.4 Z" stroke-width="1.49" fill="#fff" stroke="none"/>
<line x1="219.4" y1="599.7" x2="219.4" y2="618.8" stroke-width="1.49" />
<path d="M262.9 631.4 L326.4 616.2 L326.4 638.5 L309.9 642 L309.9 625.6 L279.4 632.6 L279.4 649.1 L262.9 653.8 Z" stroke-width="1.49" fill="#fff" />
<path d="M219.4 599.7 L282.9 584.4 L326.4 616.2 L262.9 631.4 Z" stroke-width="1.49" fill="#fff" />
<path d="M231.5 605 L254.5 607.5" stroke-width="2.7" fill="none" stroke="#444"/>
<path d="M291 609 L315 612.5" stroke-width="2.7" fill="none" stroke="#444"/>
<path d="M256.5 596.5 L266.5 603" stroke-width="2.7" fill="none" stroke="#444"/>
<path d="M278.5 612 L290 619" stroke-width="2.7" fill="none" stroke="#444"/>
<path d="M281 600.5 L285.5 592.5" stroke-width="2.97" fill="none" stroke="#555"/>
<path d="M259.5 624 L266 616" stroke-width="2.97" fill="none" stroke="#555"/>
<path d="M279.6 656.5 L286.2 656.5 L285 660.8 L282.9 662.3 L280.8 660.8 Z" stroke-width="1.62" fill="#777" />
<path d="M194.7 476.9 L353.6 444.8 L353.6 562 L209.4 596.2 L209.6 559.8 L195.6 538.8 Z" stroke-width="2.03" fill="none" stroke-dasharray="0.1 3" stroke-linecap="round"/>
<ellipse cx="323.5" cy="515.5" rx="12" ry="30.5" stroke-width="1.49" fill="#fff" transform="rotate(-8 323.5 515.5)" />
<path d="M318.9 485.4 L331.4 482.7 L340.6 542.9 L328.1 545.6 Z" stroke-width="1.49" fill="#fff" stroke="none"/>
<line x1="318.9" y1="485.4" x2="331.4" y2="482.7" stroke-width="1.49" />
<line x1="328.1" y1="545.6" x2="340.6" y2="542.9" stroke-width="1.49" />
<path d="M331 484 Q347.5 488 347.7 506 Q348 528 339 538 Q336 541.5 332 541.5" stroke-width="1.49" fill="#fff" />
<path d="M279.1 506.5 L327.1 497.9 L332.2 527 L330.5 537.3 L284.2 547.6 L280.8 523.6 Z" stroke-width="1.49" fill="#fff" />
<line x1="283.5" y1="508.5" x2="329.5" y2="499.9" stroke-width="2.7" />
<line x1="283.5" y1="511.8" x2="329.5" y2="503.2" stroke-width="1.49" />
<line x1="283.5" y1="515.1" x2="329.5" y2="506.5" stroke-width="2.7" />
<line x1="283.5" y1="518.4" x2="329.5" y2="509.8" stroke-width="1.49" />
<line x1="283.5" y1="521.7" x2="329.5" y2="513.1" stroke-width="2.7" />
<line x1="283.5" y1="525" x2="329.5" y2="516.4" stroke-width="1.49" />
<line x1="283.5" y1="528.3" x2="329.5" y2="519.7" stroke-width="2.7" />
<line x1="283.5" y1="531.6" x2="329.5" y2="523" stroke-width="1.49" />
<line x1="283.5" y1="534.9" x2="329.5" y2="526.3" stroke-width="2.7" />
<line x1="283.5" y1="538.2" x2="329.5" y2="529.6" stroke-width="1.49" />
<line x1="283.5" y1="541.5" x2="329.5" y2="532.9" stroke-width="2.7" />
<line x1="281" y1="500" x2="327" y2="492" stroke-width="1.35" />
<path d="M283 506 L327 498" stroke-width="3.24" fill="none" />
<path d="M327.1 497.9 Q333.5 512 330.5 537.3" stroke-width="2.97" fill="none" />
<path d="M310 494 Q326 502 334 517 Q341 533 333 543 Q324 550 308 544.5" stroke-width="4.86" fill="none" />
<path d="M310 494 Q326 502 334 517 Q341 533 333 543 Q324 550 308 544.5" stroke-width="2.43" fill="none" stroke="#fff"/>
<path d="M255 480.7 L297.9 470.4 L317.7 485.9 L317.7 493.6 L279.1 503.9 L255.9 491.9 Z" stroke-width="1.62" fill="#fff" />
<path d="M255 480.7 L297.9 470.4 L317.7 485.9 L279.1 497 Z" stroke-width="1.49" fill="#fff" />
<line x1="279.1" y1="497" x2="279.1" y2="503.9" stroke-width="1.35" />
<path d="M277.3 476.4 L292.8 472.2 L304.8 480.7 L304.8 484.6 L287.6 489.6 L277.3 480.5 Z" stroke-width="1.49" fill="#fff" />
<path d="M277.3 476.4 L292.8 472.2 L304.8 480.7 L287.6 485.9 Z" stroke-width="1.49" fill="#888" />
<line x1="287.6" y1="485.9" x2="287.6" y2="489.6" stroke-width="1.22" />
<circle cx="271.5" cy="486.5" r="1.0" fill="#222" stroke="none"/>
<circle cx="310" cy="493.4" r="2.0" fill="#222" stroke="none"/>
<path d="M246.78362573099415 497.89473684210526 Q254.093567251462 497.89473684210526 259.2105263157895 503.30409356725147 L270.7602339181287 514.7076023391813 Q275.43859649122805 522.0175438596491 275.7309941520468 530.7894736842105 L275.7309941520468 560.0292397660819 L281.87134502923976 558.5672514619883 L287.719298245614 564.4152046783626 L287.719298245614 567.6315789473684 L276.0233918128655 572.0175438596491 L271.6374269005848 567.6315789473684 L264.32748538011697 565.8771929824561" stroke-width="2.03" fill="#fff" />
<path d="M251.16959064327486 503.30409356725147 Q267.9824561403509 513.2456140350877 269.8830409356725 532.2514619883041 L269.8830409356725 564.4152046783626" stroke-width="1.35" fill="none" />
<path d="M268.7134502923977 502.280701754386 L279.67836257309943 503.30409356725147 L279.67836257309943 508.859649122807" stroke-width="1.62" fill="none" />
<line x1="276" y1="572" x2="276" y2="561.5" stroke-width="1.22" />
<path d="M275.7309941520468 530.7894736842105 L280.1169590643275 529.327485380117" stroke-width="1.35" fill="none" />
<path d="M279.67836257309943 508.859649122807 L281.2865497076024 526.4035087719299 L284.0643274853801 546.8713450292398" stroke-width="2.7" fill="none" />
<path d="M276.0233918128655 517.6315789473684 Q281.87134502923976 520.5555555555555 281.2865497076024 529.327485380117 Q280.70175438596493 538.0994152046784 276.60818713450294 539.561403508772" stroke-width="1.62" fill="none" />
<path d="M248.2 503.3 C244.7 501.1 249.1 504.3 243.9 505.9 C238.6 507.6 237.3 506 230.7 508.9 C224.1 511.7 228.1 511.7 221.9 515.4 C215.8 519.2 214.6 515.8 210.2 521.3 C205.8 526.8 207.5 524.3 207.3 533.7 C207.1 543.1 206.9 543.5 209.5 552.7 C212.1 561.9 211.9 560 216.1 564.4 C220.2 568.8 210.7 566.8 223.4 567.3 C236.1 567.9 247.1 570.6 258.5 566.2 C269.9 561.8 261 563.3 261.4 552.7 C261.8 542.1 261.7 542.6 259.9 530.8 C258.2 518.9 259.1 521.5 255.6 513.2 C252 505 251.8 505.5 248.2 503.3 Z" stroke-width="1.62" fill="#fff" />
<path d="M248.2 508.9 C250.4 512.3 251.8 511.8 254.8 519.1 C257.8 526.4 256.1 519.6 257.3 530.8 C258.5 542 259.1 541 258.5 552.7 C257.9 564.4 256.5 561.5 255.6 565.9" stroke-width="1.49" fill="none" />
<path d="M250.4 516.2 C251.6 520.1 252.3 519.6 253.8 527.9 C255.3 536.2 254.8 531.8 255 541 C255.2 550.3 255.3 547.6 254.4 555.6 C253.5 563.7 253 562 252.3 565.1" stroke-width="1.22" fill="none" />
<path d="M243.9 507.4 C245.7 511.8 247 509.3 249.4 520.6 C251.9 531.8 251.3 526 251.2 541 C251 556 249.7 557.4 249 565.6" stroke-width="1.22" fill="none" />
<path d="M221.9 516.2 C224.1 519.1 225.4 518.6 228.5 524.9 C231.6 531.3 230.5 527.9 231.3 535.2 C232.1 542.5 232.2 539.1 231 546.9 C229.8 554.7 230.3 552.1 227.8 558.6 C225.2 565 224.9 563.6 223.4 566.2" stroke-width="1.35" fill="none" />
<path d="M209.1 541 C211.9 540.3 212.3 541.3 217.5 538.8 C222.8 536.4 221 537.9 224.9 533.7 C228.8 529.6 227.8 528.8 229.2 526.4" stroke-width="1.22" fill="none" />
<ellipse cx="215.4" cy="527.9" rx="6" ry="9" stroke-width="1.62" fill="#fff" transform="rotate(-8 215.4 527.9)" />
<ellipse cx="216.1" cy="527.9" rx="3.9" ry="6.4" stroke-width="1.35" fill="none" transform="rotate(-8 216.1 527.9)" />
<path d="M216.37426900584796 518.8011695906433 L224.12280701754386 516.4619883040936 M216.37426900584796 536.9298245614035 L223.09941520467837 535.1754385964912" stroke-width="1.22" fill="none" />
<ellipse cx="236.5" cy="510.6" rx="5.2" ry="2.7" stroke-width="1.35" fill="#fff" transform="rotate(-8 236.5 510.6)" />
<path d="M231.4327485380117 511.19883040935673 L231.57894736842104 514.4152046783626 M241.81286549707602 510.0292397660819 L241.95906432748538 512.953216374269" stroke-width="1.22" fill="none" />
<path d="M222.22222222222223 515.438596491228 L222.22222222222223 511.49122807017545 L227.48538011695905 510.32163742690057 L227.48538011695905 514.1228070175439" stroke-width="1.35" fill="#fff" />
<ellipse cx="224.9" cy="510.8" rx="2.7" ry="1.4" stroke-width="1.22" fill="#fff" transform="rotate(-8 224.9 510.8)" />
<ellipse cx="219.3" cy="560.8" rx="1.7" ry="2.5" stroke-width="1.22" fill="none" transform="rotate(-10 219.3 560.8)" />
<circle cx="262.1" cy="521.3" r="1.0" fill="#222" stroke="none"/>
<ellipse cx="198.4" cy="566.5" rx="3.4" ry="5" stroke-width="2.16" fill="#fff" transform="rotate(10 198.4 566.5)" />
<ellipse cx="198.4" cy="566.5" rx="1.4" ry="2.4" stroke-width="1.22" fill="#999" transform="rotate(10 198.4 566.5)" />
<path d="M356.8 503.6 L364.6 503.6 L364 507 L357.4 507 Z" stroke-width="2.16" fill="#444" />
<path d="M359.2 507 L359.2 516.6 L362.2 516.6 L362.2 507" stroke-width="1.35" fill="#fff" />
<path d="M361 519.5 L361 546 L353.6 547.6" stroke-width="1.49" fill="none" stroke-dasharray="7 3.5" stroke-linecap="butt"/>
<path d="M351 548.3 L285.5 564.6" stroke-width="1.49" fill="none" stroke-dasharray="7 3.5" stroke-linecap="butt"/>
<path d="M282.6 571 L282.6 656" stroke-width="1.49" fill="none" stroke-dasharray="7 3.5" stroke-linecap="butt"/>
<path d="M178 570.2 Q160 573 150 590 Q144 603 143.4 621" stroke-width="11.34" fill="none" stroke-linecap="butt"/>
<path d="M178 570.2 Q160 573 150 590 Q144 603 143.4 621" stroke-width="8.1" fill="none" stroke="#fff" stroke-linecap="butt"/>
<path d="M176 567 L190 569 L189.4 573.4 L175.6 572.6 Z" stroke-width="1.49" fill="#ccc" />
<path d="M179 567.4 L178.6 572.8 M182 567.8 L181.6 573 M185 568.2 L184.6 573.2 M187.5 568.6 L187.2 573.3" stroke-width="1.35" fill="none" />
<path d="M137.6 622.3 L150.8 622.3 L150.8 633 L148.8 638.7 L139.4 638.7 L137.6 633 Z" stroke-width="1.62" fill="#fff" />
<path d="M141.6 622.3 L141.6 638.7 M146.8 622.3 L146.8 638.7 M137.6 626 L150.8 626" stroke-width="1.22" fill="none" />
<path d="M143.6 642.5 L143.6 680" stroke-width="1.62" fill="none" stroke-dasharray="7 3.5" stroke-linecap="butt"/>
<path d="M84 658.1 L102.6 651.4 L119.8 661.9 L120.9 682.9 L122.6 693.3 L106.4 706.7 L97.9 703 L85.5 687.6 Z" stroke-width="1.76" fill="#fff" />
<path d="M96.7 665 L119.8 662.7 L120.9 682.9 L121.7 689.5 L111.2 693.3 L103.6 697.1 L97.7 693.3 Z" stroke-width="1.35" fill="#262626" />
<path d="M84.04761904761905 658.0952380952381 L96.14285714285714 663.8095238095239 L119.76190476190476 661.9047619047619" stroke-width="1.62" fill="none" />
<path d="M96.14285714285714 663.8095238095239 L97.85714285714286 703.047619047619" stroke-width="1.62" fill="none" />
<path d="M87.38095238095238 656.1904761904761 L98.80952380952381 660.4761904761905" stroke-width="1.22" fill="none" />
<ellipse cx="111.7" cy="676.2" rx="7.4" ry="8.4" stroke-width="1.35" fill="#fff" />
<ellipse cx="112.3" cy="676.6" rx="5" ry="5.8" stroke-width="2.16" fill="#ddd" />
<ellipse cx="113.1" cy="676.8" rx="2.4" ry="2.8" stroke-width="1.62" fill="#444" />
<path d="M103.57142857142857 668.5714285714286 L115.0 666.4761904761905" stroke-width="1.62" fill="none" stroke="#eee"/>
<path d="M100 689.5 L103.6 688.1 L104 692.2 L100.3 693.5 Z" stroke-width="1.08" fill="#fff" />
<path d="M115 686.2 L119 684.8 L119.4 688.1 L115.4 689.5 Z" stroke-width="1.08" fill="#fff" />
<ellipse cx="105.3" cy="701.7" rx="5.6" ry="6.2" stroke-width="1.62" fill="#222" />
<ellipse cx="106" cy="702.5" rx="3" ry="3.4" stroke-width="1.35" fill="#fff" />
<ellipse cx="119.6" cy="698.1" rx="5.6" ry="6.2" stroke-width="1.62" fill="#222" />
<ellipse cx="120.3" cy="698.9" rx="3" ry="3.4" stroke-width="1.35" fill="#fff" />
<path d="M102.6 707.1 L102 706.9 L101.4 706.6 L100.9 706.3 L100.3 705.9 L99.9 705.5 L99.4 704.9 L99.1 704.4 L98.7 703.7 L98.5 703.1 L98.3 702.4 L98.2 701.7 L98.2 701 L98.2 700.2 L98.3 699.5 L98.5 698.8 L98.7 698.2 L99.1 697.5 L99.4 697 L99.9 696.4 L100.3 696 L100.9 695.6 L101.4 695.3 L102 695 L102.6 694.8" stroke-width="1.49" fill="none" />
<path d="M116.9 703.4 L116.3 703.3 L115.7 703 L115.2 702.7 L114.6 702.3 L114.2 701.8 L113.7 701.3 L113.3 700.7 L113 700.1 L112.8 699.5 L112.6 698.8 L112.5 698.1 L112.5 697.3 L112.5 696.6 L112.6 695.9 L112.8 695.2 L113 694.6 L113.3 693.9 L113.7 693.3 L114.2 692.8 L114.6 692.4 L115.2 692 L115.7 691.6 L116.3 691.4 L116.9 691.2" stroke-width="1.49" fill="none" />
<line x1="124.3" y1="688" x2="132.6" y2="692.7" stroke-width="1.49" />
<line x1="123.2" y1="700.9" x2="132.6" y2="699.8" stroke-width="1.49" />
<ellipse cx="153" cy="690.5" rx="5" ry="8" stroke-width="1.49" fill="#fff" transform="rotate(15 153 690.5)" />
<path d="M155.4 682.9 L164.3 686.3 L159.5 701.5 L150.6 698.1 Z" stroke-width="1.49" fill="#fff" stroke="none"/>
<line x1="155.4" y1="682.9" x2="164.3" y2="686.3" stroke-width="1.49" />
<line x1="150.6" y1="698.1" x2="159.5" y2="701.5" stroke-width="1.49" />
<ellipse cx="161.9" cy="693.9" rx="5" ry="8" stroke-width="1.49" fill="#fff" transform="rotate(15 161.9 693.9)" />
<path d="M134.5 692 L138.5 687 L148 687 L154 691 L156 699 L152.5 706.5 L146.5 710.5 L138 709 L133.5 702 Z" stroke-width="1.62" fill="#fff" />
<path d="M138.6 684.5 L138.6 692.5 Q143.6 695.5 148.6 692.5 L148.6 684.5" stroke-width="1.49" fill="#fff" />
<ellipse cx="143.6" cy="684.5" rx="5" ry="2.5" stroke-width="1.49" fill="#fff" />
<ellipse cx="143.6" cy="684.7" rx="3" ry="1.4" stroke-width="1.08" fill="none" />
<ellipse cx="147.8" cy="700.9" rx="5" ry="6" stroke-width="1.62" fill="#fff" transform="rotate(10 147.8 700.9)" />
<ellipse cx="148.4" cy="701.2" rx="2.8" ry="3.8" stroke-width="1.35" fill="none" transform="rotate(10 148.4 701.2)" />
<path d="M136 695 L140 698 L139 706 M140 698 L146 695" stroke-width="1.22" fill="none" />
<path d="M139.8 708.5 L139.8 712.5 L146.6 712.5 L146.6 709.5" stroke-width="1.35" fill="#fff" />
<line x1="165.4" y1="691.5" x2="180.7" y2="688" stroke-width="1.49" />
<line x1="154.9" y1="706.8" x2="161.9" y2="711.5" stroke-width="1.49" />
<path d="M137.3 717 L150.2 717 L149.2 722.5 L138.3 722.5 Z" stroke-width="1.76" fill="#fff" />
<path d="M141.2 717 L141.6 722.5 M146 717 L145.8 722.5" stroke-width="1.22" fill="none" />
<path d="M140.4 722.5 L140.4 729.3 L147 729.3 L147 722.5" stroke-width="1.49" fill="#ddd" />
<path d="M140.4 725 L147 725 M140.4 727.3 L147 727.3" stroke-width="1.08" fill="none" />
<ellipse cx="172.6" cy="720.3" rx="12.6" ry="13" stroke-width="1.76" fill="#fff" />
<ellipse cx="175" cy="719.7" rx="12.2" ry="12.8" stroke-width="2.97" fill="#fff" />
<ellipse cx="175.2" cy="719.7" rx="10" ry="10.6" stroke-width="1.08" fill="none" />
<path d="M175.5 720.5 L179.5 728.5" stroke-width="2.03" fill="none" />
<line x1="168.1" y1="715.4" x2="166.7" y2="714.5" stroke-width="1.22" />
<line x1="171.1" y1="712.3" x2="170.3" y2="710.7" stroke-width="1.22" />
<line x1="175.2" y1="711.1" x2="175.2" y2="709.3" stroke-width="1.22" />
<line x1="179.3" y1="712.3" x2="180.1" y2="710.7" stroke-width="1.22" />
<line x1="182.3" y1="715.4" x2="183.7" y2="714.5" stroke-width="1.22" />
<line x1="183.4" y1="719.7" x2="185" y2="719.7" stroke-width="1.22" />
<line x1="182.3" y1="724" x2="183.7" y2="724.9" stroke-width="1.22" />
<line x1="179.3" y1="727.1" x2="180.1" y2="728.7" stroke-width="1.22" />
<line x1="175.2" y1="728.3" x2="175.2" y2="730.1" stroke-width="1.22" />
<path d="M376 564.8 Q392 568.5 404 576 Q416 585 417.6 604.8 L417.6 621.5 Q416 636 407.8 643.9 Q390 656 365.8 662.1 Q345 666 326.6 657.9 Q317 657.5 312.7 667.7 L309.8 680" stroke-width="4.59" fill="none" />
<path d="M376 564.8 Q392 568.5 404 576 Q416 585 417.6 604.8 L417.6 621.5 Q416 636 407.8 643.9 Q390 656 365.8 662.1 Q345 666 326.6 657.9 Q317 657.5 312.7 667.7 L309.8 680" stroke-width="2.29" fill="none" stroke="#fff"/>
<path d="M373 563.4 L381.5 566.4" stroke-width="3.51" fill="none" stroke="#333" stroke-linecap="butt"/>
<path d="M311 674 L308.6 686.5" stroke-width="3.78" fill="none" stroke="#333" stroke-linecap="butt"/>
<circle cx="351.8" cy="698.5" r="0.9" fill="#222" stroke="none"/>
</g>
<g id="p_labels">
<text transform="translate(797 43) scale(0.6 1)" text-anchor="middle" font-size="15" y="4.9" class="lb">1</text>
<text transform="translate(823 53) scale(0.6 1)" text-anchor="middle" font-size="15" y="4.9" class="lb">2</text>
<text transform="translate(854 60) scale(0.6 1)" text-anchor="middle" font-size="15" y="4.9" class="lb">3</text>
<text transform="translate(892 76) scale(0.6 1)" text-anchor="middle" font-size="15" y="4.9" class="lb">4</text>
<text transform="translate(918 89) scale(0.6 1)" text-anchor="middle" font-size="15" y="4.9" class="lb">5</text>
<text transform="translate(956 103) scale(0.6 1)" text-anchor="middle" font-size="15" y="4.9" class="lb">6</text>
<text transform="translate(991 121) scale(0.6 1)" text-anchor="middle" font-size="15" y="4.9" class="lb">7</text>
<text transform="translate(1010 135) scale(0.6 1)" text-anchor="middle" font-size="15" y="4.9" class="lb">8</text>
<text transform="translate(1024 150) scale(0.6 1)" text-anchor="middle" font-size="15" y="4.9" class="lb">9</text>
<text transform="translate(1052 163) scale(0.6 1)" text-anchor="middle" font-size="15" y="4.9" class="lb">10</text>
<text transform="translate(1104 211) scale(0.6 1)" text-anchor="middle" font-size="15" y="4.9" class="lb">11</text>
<text transform="translate(898 267) scale(0.6 1)" text-anchor="middle" font-size="15" y="4.9" class="lb">12</text>
<text transform="translate(839 277) scale(0.6 1)" text-anchor="middle" font-size="15" y="4.9" class="lb">13</text>
<text transform="translate(783 265) scale(0.6 1)" text-anchor="middle" font-size="15" y="4.9" class="lb">14</text>
<text transform="translate(754 264) scale(0.6 1)" text-anchor="middle" font-size="15" y="4.9" class="lb">15</text>
<text transform="translate(720 270) scale(0.6 1)" text-anchor="middle" font-size="15" y="4.9" class="lb">16</text>
<text transform="translate(679 280) scale(0.6 1)" text-anchor="middle" font-size="15" y="4.9" class="lb">17</text>
<text transform="translate(651 45) scale(0.6 1)" text-anchor="middle" font-size="15" y="4.9" class="lb">18</text>
<text transform="translate(621 58) scale(0.6 1)" text-anchor="middle" font-size="15" y="4.9" class="lb">19</text>
<text transform="translate(584 81) scale(0.6 1)" text-anchor="middle" font-size="15" y="4.9" class="lb">49</text>
<text transform="translate(564 94) scale(0.6 1)" text-anchor="middle" font-size="15" y="4.9" class="lb">50</text>
<text transform="translate(527 114) scale(0.6 1)" text-anchor="middle" font-size="15" y="4.9" class="lb">22</text>
<text transform="translate(482 139) scale(0.6 1)" text-anchor="middle" font-size="15" y="4.9" class="lb">51</text>
<text transform="translate(552 253) scale(0.6 1)" text-anchor="middle" font-size="15" y="4.9" class="lb">23</text>
<text transform="translate(346 247) scale(0.6 1)" text-anchor="middle" font-size="15" y="4.9" class="lb">26</text>
<text transform="translate(428 407) scale(0.6 1)" text-anchor="middle" font-size="15" y="4.9" class="lb">29</text>
<text transform="translate(462 408) scale(0.6 1)" text-anchor="middle" font-size="15" y="4.9" class="lb">30</text>
<text transform="translate(492 411) scale(0.6 1)" text-anchor="middle" font-size="15" y="4.9" class="lb">31</text>
<text transform="translate(522 415) scale(0.6 1)" text-anchor="middle" font-size="15" y="4.9" class="lb">32</text>
<text transform="translate(549.3 422.5) scale(0.6 1)" text-anchor="middle" font-size="15" y="4.9" class="lb">33</text>
<text transform="translate(592.3 432) scale(0.6 1)" text-anchor="middle" font-size="15" y="4.9" class="lb">34</text>
<text transform="translate(626 434) scale(0.6 1)" text-anchor="middle" font-size="15" y="4.9" class="lb">35</text>
<text transform="translate(649 442) scale(0.6 1)" text-anchor="middle" font-size="15" y="4.9" class="lb">36</text>
<text transform="translate(674.5 456.5) scale(0.6 1)" text-anchor="middle" font-size="15" y="4.9" class="lb">37</text>
<text transform="translate(699 465) scale(0.6 1)" text-anchor="middle" font-size="15" y="4.9" class="lb">38</text>
<text transform="translate(727 476) scale(0.6 1)" text-anchor="middle" font-size="15" y="4.9" class="lb">39</text>
<text transform="translate(797 296) scale(0.6 1)" text-anchor="middle" font-size="15" y="4.9" class="lb">43</text>
<text transform="translate(863 435) scale(0.6 1)" text-anchor="middle" font-size="15" y="4.9" class="lb">43</text>
<text transform="translate(843.3 310.5) scale(0.6 1)" text-anchor="middle" font-size="15" y="4.9" class="lb">45</text>
<text transform="translate(858 308.6) scale(0.6 1)" text-anchor="middle" font-size="15" y="4.9" class="lb">47</text>
<line x1="796" y1="49" x2="773" y2="86.5" stroke-width="1.35" />
<line x1="821.5" y1="60" x2="802" y2="127" stroke-width="1.35" />
<line x1="852" y1="67" x2="830" y2="132.5" stroke-width="1.35" />
<line x1="890.5" y1="83" x2="870.5" y2="134.5" stroke-width="1.35" />
<line x1="915" y1="96" x2="894.5" y2="166" stroke-width="1.35" />
<line x1="952.5" y1="109" x2="942" y2="142" stroke-width="1.35" />
<line x1="988" y1="127" x2="970" y2="175.5" stroke-width="1.35" />
<line x1="1006.5" y1="142" x2="957.5" y2="214.5" stroke-width="1.35" />
<line x1="1021" y1="156" x2="986.5" y2="207" stroke-width="1.35" />
<line x1="1047.5" y1="170" x2="1023.5" y2="227.5" stroke-width="1.35" />
<line x1="1099" y1="218.5" x2="1084.5" y2="250" stroke-width="1.35" />
<line x1="902" y1="259" x2="915" y2="232.5" stroke-width="1.35" />
<line x1="816.5" y1="238.5" x2="835" y2="269" stroke-width="1.35" />
<line x1="769" y1="194.5" x2="782.5" y2="258" stroke-width="1.35" />
<line x1="751" y1="211.5" x2="753.5" y2="257" stroke-width="1.35" />
<line x1="723.5" y1="216.5" x2="715" y2="262" stroke-width="1.35" />
<line x1="634.5" y1="253" x2="673.5" y2="271.5" stroke-width="1.35" />
<line x1="653" y1="54" x2="657.5" y2="76.5" stroke-width="1.35" />
<line x1="623.5" y1="67" x2="664" y2="160" stroke-width="1.35" />
<line x1="593.5" y1="89.5" x2="611.5" y2="127.5" stroke-width="1.35" />
<line x1="564" y1="100" x2="593.5" y2="135.5" stroke-width="1.35" />
<line x1="528" y1="121" x2="559.5" y2="151" stroke-width="1.35" />
<line x1="483.5" y1="146" x2="496.5" y2="156.5" stroke-width="1.35" />
<line x1="505" y1="208.5" x2="548.5" y2="239" stroke-width="1.35" />
<line x1="356.5" y1="250" x2="382" y2="257" stroke-width="1.35" />
<line x1="426" y1="325.5" x2="427.5" y2="399" stroke-width="1.35" />
<line x1="469.5" y1="305" x2="463.5" y2="399" stroke-width="1.35" />
<line x1="476.5" y1="342" x2="490.5" y2="403" stroke-width="1.35" />
<line x1="513" y1="351" x2="520.5" y2="407.5" stroke-width="1.35" />
<line x1="544.5" y1="340" x2="547" y2="414.5" stroke-width="1.35" />
<line x1="586" y1="369.5" x2="591" y2="424" stroke-width="1.35" />
<line x1="621" y1="392" x2="625.5" y2="425.5" stroke-width="1.35" />
<line x1="656" y1="382" x2="650.5" y2="435" stroke-width="1.35" />
<line x1="682.5" y1="403" x2="674.5" y2="448" stroke-width="1.35" />
<line x1="708" y1="385" x2="700" y2="457.5" stroke-width="1.35" />
<line x1="755.5" y1="439.5" x2="733" y2="469" stroke-width="1.35" />
<line x1="791.5" y1="302.5" x2="775" y2="325" stroke-width="1.35" />
<line x1="838" y1="315" x2="801.5" y2="333" stroke-width="1.35" />
<line x1="843.5" y1="422.5" x2="859" y2="431" stroke-width="1.35" />
<circle cx="957.5" cy="214.5" r="0.9" fill="#222" stroke="none"/>
<circle cx="773" cy="86.5" r="0.9" fill="#222" stroke="none"/>
<circle cx="830" cy="132.5" r="0.9" fill="#222" stroke="none"/>
<circle cx="1023.5" cy="227.5" r="0.9" fill="#222" stroke="none"/>
<circle cx="755.5" cy="439.5" r="0.9" fill="#222" stroke="none"/>
<circle cx="634.5" cy="253" r="0.9" fill="#222" stroke="none"/>
<text x="341.5" y="425.6" text-anchor="middle" font-size="14.5" class="lc">52</text>
<text x="341.5" y="441.8" text-anchor="middle" font-size="14.5" class="lc">53</text>
<line x1="329" y1="427.8" x2="350" y2="427.8" stroke-width="1.35" />
<line x1="329" y1="427.8" x2="326.3" y2="449.4" stroke-width="1.35" />
<text transform="translate(108 500) scale(0.6 1)" text-anchor="middle" font-size="15" y="4.9" class="lb">902</text>
<text transform="translate(130 500) scale(0.6 1)" text-anchor="middle" font-size="15" y="4.9" class="lb">901</text>
<path d="M98 507.5 L116.3 507.5 L119.3 513 L122.3 507.5 L139 507.5 L196.5 564" stroke-width="1.35" fill="none" />
<text transform="translate(97.5 544.5) scale(0.6 1)" text-anchor="middle" font-size="15" y="4.9" class="lb">903</text>
<path d="M88.5 551.5 L106 551.5 L157.5 581" stroke-width="1.35" fill="none" />
<text transform="translate(54 625) scale(0.6 1)" text-anchor="middle" font-size="15" y="4.9" class="lb">904</text>
<path d="M46 632 L62.5 632 L90 655" stroke-width="1.35" fill="none" />
<text transform="translate(105 731.5) scale(0.6 1)" text-anchor="middle" font-size="15" y="4.9" class="lb">905</text>
<path d="M97 738.7 L113.5 738.7 L137.5 706" stroke-width="1.35" fill="none" />
<text transform="translate(106.5 758) scale(0.6 1)" text-anchor="middle" font-size="15" y="4.9" class="lb">906</text>
<text transform="translate(128.5 758) scale(0.6 1)" text-anchor="middle" font-size="15" y="4.9" class="lb">908</text>
<path d="M97.5 764.8 L114.4 764.8 L117.4 770.3 L120.4 764.8 L137.5 764.8 L144 730" stroke-width="1.35" fill="none" />
<text transform="translate(194 756) scale(0.6 1)" text-anchor="middle" font-size="15" y="4.9" class="lb">909</text>
<path d="M204 764 L183.3 764 L177 734.5" stroke-width="1.35" fill="none" />
<text transform="translate(394.5 705) scale(0.6 1)" text-anchor="middle" font-size="15" y="4.9" class="lb">910</text>
<path d="M403.5 712.4 L384 712.4 L352 698.5" stroke-width="1.35" fill="none" />
<text transform="translate(450.5 635.5) scale(0.6 1)" text-anchor="middle" font-size="15" y="4.9" class="lb">911</text>
<path d="M459.5 643 L440 643 L418.5 622" stroke-width="1.35" fill="none" />
<text transform="translate(400.5 487) scale(0.6 1)" text-anchor="middle" font-size="15" y="4.9" class="lb">912</text>
<text transform="translate(421.5 487) scale(0.6 1)" text-anchor="middle" font-size="15" y="4.9" class="lb">913</text>
<path d="M364 504 L389.5 494.2 L408 494.2 L411 500 L414 494.2 L431 494.2" stroke-width="1.35" fill="none" />
</g>
</svg>
</body></html>
